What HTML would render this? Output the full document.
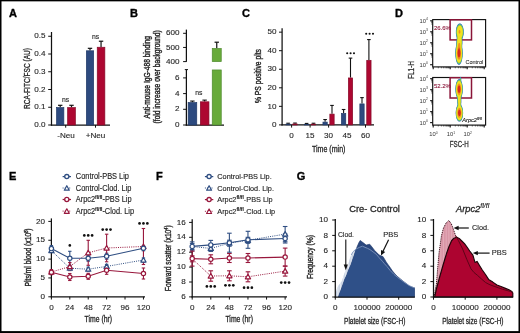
<!DOCTYPE html><html><head><meta charset="utf-8"><style>html,body{margin:0;padding:0;background:#fff;}svg{display:block;filter:blur(0.3px);}</style></head><body>
<svg width="520" height="333" viewBox="0 0 520 333" font-family="'Liberation Sans', sans-serif">
<rect x="0" y="0" width="520" height="333" fill="#fff"/>
<text x="9.00" y="16.80" font-size="11" text-anchor="start" fill="#000" stroke="#000" stroke-width="0.35" font-weight="bold">A</text>
<line x1="51.50" y1="32.00" x2="51.50" y2="125.60" stroke="#111" stroke-width="1.25"/>
<line x1="48.20" y1="125.00" x2="51.50" y2="125.00" stroke="#111" stroke-width="1.0"/>
<text x="45.40" y="127.15" font-size="8.1" text-anchor="end" fill="#262626" stroke="#262626" stroke-width="0.12">0.0</text>
<line x1="48.20" y1="107.25" x2="51.50" y2="107.25" stroke="#111" stroke-width="1.0"/>
<text x="45.40" y="109.40" font-size="8.1" text-anchor="end" fill="#262626" stroke="#262626" stroke-width="0.12">0.1</text>
<line x1="48.20" y1="89.50" x2="51.50" y2="89.50" stroke="#111" stroke-width="1.0"/>
<text x="45.40" y="91.65" font-size="8.1" text-anchor="end" fill="#262626" stroke="#262626" stroke-width="0.12">0.2</text>
<line x1="48.20" y1="71.75" x2="51.50" y2="71.75" stroke="#111" stroke-width="1.0"/>
<text x="45.40" y="73.90" font-size="8.1" text-anchor="end" fill="#262626" stroke="#262626" stroke-width="0.12">0.3</text>
<line x1="48.20" y1="54.00" x2="51.50" y2="54.00" stroke="#111" stroke-width="1.0"/>
<text x="45.40" y="56.15" font-size="8.1" text-anchor="end" fill="#262626" stroke="#262626" stroke-width="0.12">0.4</text>
<line x1="48.20" y1="36.25" x2="51.50" y2="36.25" stroke="#111" stroke-width="1.0"/>
<text x="45.40" y="38.40" font-size="8.1" text-anchor="end" fill="#262626" stroke="#262626" stroke-width="0.12">0.5</text>
<line x1="50.90" y1="125.00" x2="110.00" y2="125.00" stroke="#111" stroke-width="1.25"/>
<line x1="65.70" y1="125.00" x2="65.70" y2="127.70" stroke="#111" stroke-width="1.0"/>
<line x1="95.50" y1="125.00" x2="95.50" y2="127.70" stroke="#111" stroke-width="1.0"/>
<line x1="60.20" y1="105.30" x2="60.20" y2="107.25" stroke="#111" stroke-width="1.2"/>
<line x1="58.00" y1="105.30" x2="62.40" y2="105.30" stroke="#111" stroke-width="1.2"/>
<rect x="56.55" y="107.60" width="7.30" height="17.40" fill="#2d4a7f" stroke="#213a68" stroke-width="0.7"/>
<line x1="71.50" y1="105.30" x2="71.50" y2="107.25" stroke="#111" stroke-width="1.2"/>
<line x1="69.30" y1="105.30" x2="73.70" y2="105.30" stroke="#111" stroke-width="1.2"/>
<rect x="67.65" y="107.60" width="7.70" height="17.40" fill="#ad0731" stroke="#860a28" stroke-width="0.7"/>
<line x1="90.00" y1="48.32" x2="90.00" y2="50.45" stroke="#111" stroke-width="1.2"/>
<line x1="87.80" y1="48.32" x2="92.20" y2="48.32" stroke="#111" stroke-width="1.2"/>
<rect x="86.35" y="50.80" width="7.30" height="74.20" fill="#2d4a7f" stroke="#213a68" stroke-width="0.7"/>
<line x1="101.05" y1="41.22" x2="101.05" y2="46.90" stroke="#111" stroke-width="1.2"/>
<line x1="98.85" y1="41.22" x2="103.25" y2="41.22" stroke="#111" stroke-width="1.2"/>
<rect x="97.25" y="47.25" width="7.60" height="77.75" fill="#ad0731" stroke="#860a28" stroke-width="0.7"/>
<text x="65.70" y="102.20" font-size="6.8" text-anchor="middle" fill="#262626" stroke="#262626" stroke-width="0.12">ns</text>
<text x="95.60" y="38.60" font-size="6.8" text-anchor="middle" fill="#262626" stroke="#262626" stroke-width="0.12">ns</text>
<text x="66.00" y="138.40" font-size="8.1" text-anchor="middle" fill="#262626" stroke="#262626" stroke-width="0.12">-Neu</text>
<text x="95.60" y="138.40" font-size="8.1" text-anchor="middle" fill="#262626" stroke="#262626" stroke-width="0.12">+Neu</text>
<text x="29.60" y="78.50" font-size="8.2" text-anchor="middle" fill="#262626" stroke="#262626" stroke-width="0.3" textLength="61" lengthAdjust="spacingAndGlyphs" transform="rotate(-90 29.60 78.50)">RCA-FITC/FSC (AU)</text>
<text x="129.90" y="16.80" font-size="11" text-anchor="start" fill="#000" stroke="#000" stroke-width="0.35" font-weight="bold">B</text>
<line x1="186.40" y1="29.60" x2="186.40" y2="61.80" stroke="#111" stroke-width="1.25"/>
<line x1="183.10" y1="61.60" x2="186.40" y2="61.60" stroke="#111" stroke-width="1.0"/>
<text x="179.60" y="63.75" font-size="8.1" text-anchor="end" fill="#262626" stroke="#262626" stroke-width="0.12">400</text>
<line x1="183.10" y1="47.45" x2="186.40" y2="47.45" stroke="#111" stroke-width="1.0"/>
<text x="179.60" y="49.60" font-size="8.1" text-anchor="end" fill="#262626" stroke="#262626" stroke-width="0.12">500</text>
<line x1="183.10" y1="33.30" x2="186.40" y2="33.30" stroke="#111" stroke-width="1.0"/>
<text x="179.60" y="35.45" font-size="8.1" text-anchor="end" fill="#262626" stroke="#262626" stroke-width="0.12">600</text>
<line x1="186.40" y1="69.60" x2="186.40" y2="125.60" stroke="#111" stroke-width="1.25"/>
<line x1="184.80" y1="69.60" x2="188.00" y2="69.60" stroke="#111" stroke-width="1.0"/>
<line x1="183.10" y1="125.00" x2="186.40" y2="125.00" stroke="#111" stroke-width="1.0"/>
<text x="179.60" y="127.15" font-size="8.1" text-anchor="end" fill="#262626" stroke="#262626" stroke-width="0.12">0</text>
<line x1="183.10" y1="109.30" x2="186.40" y2="109.30" stroke="#111" stroke-width="1.0"/>
<text x="179.60" y="111.45" font-size="8.1" text-anchor="end" fill="#262626" stroke="#262626" stroke-width="0.12">2</text>
<line x1="183.10" y1="93.60" x2="186.40" y2="93.60" stroke="#111" stroke-width="1.0"/>
<text x="179.60" y="95.75" font-size="8.1" text-anchor="end" fill="#262626" stroke="#262626" stroke-width="0.12">4</text>
<line x1="183.10" y1="77.90" x2="186.40" y2="77.90" stroke="#111" stroke-width="1.0"/>
<text x="179.60" y="80.05" font-size="8.1" text-anchor="end" fill="#262626" stroke="#262626" stroke-width="0.12">6</text>
<line x1="185.80" y1="125.00" x2="224.00" y2="125.00" stroke="#111" stroke-width="1.25"/>
<line x1="192.40" y1="101.06" x2="192.40" y2="102.23" stroke="#111" stroke-width="1.1"/>
<line x1="190.20" y1="101.06" x2="194.60" y2="101.06" stroke="#111" stroke-width="1.1"/>
<rect x="188.15" y="102.58" width="8.60" height="22.41" fill="#2d4a7f" stroke="#213a68" stroke-width="0.7"/>
<line x1="204.60" y1="100.12" x2="204.60" y2="101.45" stroke="#111" stroke-width="1.1"/>
<line x1="202.40" y1="100.12" x2="206.80" y2="100.12" stroke="#111" stroke-width="1.1"/>
<rect x="200.35" y="101.80" width="8.60" height="23.20" fill="#ad0731" stroke="#860a28" stroke-width="0.7"/>
<rect x="212.25" y="69.95" width="9.00" height="55.05" fill="#68aa3a" stroke="#4f8a2f" stroke-width="0.7"/>
<line x1="216.75" y1="42.21" x2="216.75" y2="48.16" stroke="#111" stroke-width="1.2"/>
<line x1="214.55" y1="42.21" x2="218.95" y2="42.21" stroke="#111" stroke-width="1.2"/>
<rect x="212.25" y="48.51" width="9.00" height="13.09" fill="#68aa3a" stroke="#4f8a2f" stroke-width="0.7"/>
<text x="198.90" y="95.20" font-size="6.8" text-anchor="middle" fill="#262626" stroke="#262626" stroke-width="0.12">ns</text>
<text x="149.80" y="77.20" font-size="8.3" text-anchor="middle" fill="#262626" stroke="#262626" stroke-width="0.4" textLength="82.5" lengthAdjust="spacingAndGlyphs" transform="rotate(-90 149.80 77.20)">Anti-mouse IgG-488 binding</text>
<text x="160.10" y="76.90" font-size="8.3" text-anchor="middle" fill="#262626" stroke="#262626" stroke-width="0.4" textLength="93" lengthAdjust="spacingAndGlyphs" transform="rotate(-90 160.10 76.90)">(fold increase over background)</text>
<text x="241.90" y="16.80" font-size="11" text-anchor="start" fill="#000" stroke="#000" stroke-width="0.35" font-weight="bold">C</text>
<line x1="282.10" y1="28.20" x2="282.10" y2="125.50" stroke="#111" stroke-width="1.25"/>
<line x1="279.00" y1="124.90" x2="282.10" y2="124.90" stroke="#111" stroke-width="1.0"/>
<text x="276.40" y="127.05" font-size="8.1" text-anchor="end" fill="#262626" stroke="#262626" stroke-width="0.12">0</text>
<line x1="279.00" y1="106.35" x2="282.10" y2="106.35" stroke="#111" stroke-width="1.0"/>
<text x="276.40" y="108.50" font-size="8.1" text-anchor="end" fill="#262626" stroke="#262626" stroke-width="0.12">10</text>
<line x1="279.00" y1="87.80" x2="282.10" y2="87.80" stroke="#111" stroke-width="1.0"/>
<text x="276.40" y="89.95" font-size="8.1" text-anchor="end" fill="#262626" stroke="#262626" stroke-width="0.12">20</text>
<line x1="279.00" y1="69.25" x2="282.10" y2="69.25" stroke="#111" stroke-width="1.0"/>
<text x="276.40" y="71.40" font-size="8.1" text-anchor="end" fill="#262626" stroke="#262626" stroke-width="0.12">30</text>
<line x1="279.00" y1="50.70" x2="282.10" y2="50.70" stroke="#111" stroke-width="1.0"/>
<text x="276.40" y="52.85" font-size="8.1" text-anchor="end" fill="#262626" stroke="#262626" stroke-width="0.12">40</text>
<line x1="279.00" y1="32.15" x2="282.10" y2="32.15" stroke="#111" stroke-width="1.0"/>
<text x="276.40" y="34.30" font-size="8.1" text-anchor="end" fill="#262626" stroke="#262626" stroke-width="0.12">50</text>
<line x1="281.50" y1="124.90" x2="374.00" y2="124.90" stroke="#111" stroke-width="1.25"/>
<line x1="288.10" y1="123.23" x2="288.10" y2="123.79" stroke="#111" stroke-width="1.1"/>
<line x1="286.30" y1="123.23" x2="289.90" y2="123.23" stroke="#111" stroke-width="1.1"/>
<line x1="295.00" y1="123.05" x2="295.00" y2="123.60" stroke="#111" stroke-width="1.1"/>
<line x1="293.20" y1="123.05" x2="296.80" y2="123.05" stroke="#111" stroke-width="1.1"/>
<rect x="285.95" y="124.14" width="4.30" height="0.76" fill="#2d4a7f" stroke="#213a68" stroke-width="0.7"/>
<rect x="292.85" y="123.95" width="4.30" height="0.95" fill="#ad0731" stroke="#860a28" stroke-width="0.7"/>
<line x1="291.60" y1="124.90" x2="291.60" y2="127.60" stroke="#111" stroke-width="1.0"/>
<text x="291.60" y="138.20" font-size="8.1" text-anchor="middle" fill="#262626" stroke="#262626" stroke-width="0.12">0</text>
<line x1="306.60" y1="123.42" x2="306.60" y2="123.97" stroke="#111" stroke-width="1.1"/>
<line x1="304.80" y1="123.42" x2="308.40" y2="123.42" stroke="#111" stroke-width="1.1"/>
<line x1="313.50" y1="123.23" x2="313.50" y2="123.79" stroke="#111" stroke-width="1.1"/>
<line x1="311.70" y1="123.23" x2="315.30" y2="123.23" stroke="#111" stroke-width="1.1"/>
<rect x="304.45" y="124.32" width="4.30" height="0.58" fill="#2d4a7f" stroke="#213a68" stroke-width="0.7"/>
<rect x="311.35" y="124.14" width="4.30" height="0.76" fill="#ad0731" stroke="#860a28" stroke-width="0.7"/>
<line x1="310.10" y1="124.90" x2="310.10" y2="127.60" stroke="#111" stroke-width="1.0"/>
<text x="310.10" y="138.20" font-size="8.1" text-anchor="middle" fill="#262626" stroke="#262626" stroke-width="0.12">15</text>
<line x1="325.10" y1="119.52" x2="325.10" y2="121.75" stroke="#111" stroke-width="1.1"/>
<line x1="323.30" y1="119.52" x2="326.90" y2="119.52" stroke="#111" stroke-width="1.1"/>
<line x1="332.00" y1="105.42" x2="332.00" y2="113.77" stroke="#111" stroke-width="1.1"/>
<line x1="330.20" y1="105.42" x2="333.80" y2="105.42" stroke="#111" stroke-width="1.1"/>
<rect x="322.95" y="122.10" width="4.30" height="2.80" fill="#2d4a7f" stroke="#213a68" stroke-width="0.7"/>
<rect x="329.85" y="114.12" width="4.30" height="10.78" fill="#ad0731" stroke="#860a28" stroke-width="0.7"/>
<line x1="328.60" y1="124.90" x2="328.60" y2="127.60" stroke="#111" stroke-width="1.0"/>
<text x="328.60" y="138.20" font-size="8.1" text-anchor="middle" fill="#262626" stroke="#262626" stroke-width="0.12">30</text>
<line x1="343.60" y1="109.50" x2="343.60" y2="113.21" stroke="#111" stroke-width="1.1"/>
<line x1="341.80" y1="109.50" x2="345.40" y2="109.50" stroke="#111" stroke-width="1.1"/>
<line x1="350.50" y1="58.12" x2="350.50" y2="77.60" stroke="#111" stroke-width="1.1"/>
<line x1="348.70" y1="58.12" x2="352.30" y2="58.12" stroke="#111" stroke-width="1.1"/>
<rect x="341.45" y="113.56" width="4.30" height="11.34" fill="#2d4a7f" stroke="#213a68" stroke-width="0.7"/>
<rect x="348.35" y="77.95" width="4.30" height="46.95" fill="#ad0731" stroke="#860a28" stroke-width="0.7"/>
<line x1="347.10" y1="124.90" x2="347.10" y2="127.60" stroke="#111" stroke-width="1.0"/>
<text x="347.10" y="138.20" font-size="8.1" text-anchor="middle" fill="#262626" stroke="#262626" stroke-width="0.12">45</text>
<line x1="362.00" y1="97.63" x2="362.00" y2="103.57" stroke="#111" stroke-width="1.1"/>
<line x1="360.20" y1="97.63" x2="363.80" y2="97.63" stroke="#111" stroke-width="1.1"/>
<line x1="368.90" y1="39.57" x2="368.90" y2="59.98" stroke="#111" stroke-width="1.1"/>
<line x1="367.10" y1="39.57" x2="370.70" y2="39.57" stroke="#111" stroke-width="1.1"/>
<rect x="359.85" y="103.92" width="4.30" height="20.98" fill="#2d4a7f" stroke="#213a68" stroke-width="0.7"/>
<rect x="366.75" y="60.33" width="4.30" height="64.58" fill="#ad0731" stroke="#860a28" stroke-width="0.7"/>
<line x1="365.50" y1="124.90" x2="365.50" y2="127.60" stroke="#111" stroke-width="1.0"/>
<text x="365.50" y="138.20" font-size="8.1" text-anchor="middle" fill="#262626" stroke="#262626" stroke-width="0.12">60</text>
<circle cx="347.20" cy="53.20" r="1.05" fill="#111"/>
<circle cx="350.60" cy="53.20" r="1.05" fill="#111"/>
<circle cx="354.00" cy="53.20" r="1.05" fill="#111"/>
<circle cx="366.20" cy="33.70" r="1.05" fill="#111"/>
<circle cx="369.60" cy="33.70" r="1.05" fill="#111"/>
<circle cx="373.00" cy="33.70" r="1.05" fill="#111"/>
<text x="328.70" y="151.80" font-size="8.8" text-anchor="middle" fill="#262626" stroke="#262626" stroke-width="0.3" textLength="33.5" lengthAdjust="spacingAndGlyphs">Time (min)</text>
<text x="260.80" y="76.10" font-size="8.3" text-anchor="middle" fill="#262626" stroke="#262626" stroke-width="0.4" textLength="54" lengthAdjust="spacingAndGlyphs" transform="rotate(-90 260.80 76.10)">% PS positive plts</text>
<text x="394.90" y="16.80" font-size="11" text-anchor="start" fill="#000" stroke="#000" stroke-width="0.35" font-weight="bold">D</text>
<line x1="430.10" y1="20.80" x2="432.70" y2="20.80" stroke="#111" stroke-width="1.1"/>
<text x="427.9" y="22.80" font-size="5.8" text-anchor="end" fill="#333">10<tspan font-size="3.4" dy="-2.4">4</tspan></text>
<line x1="431.30" y1="24.09" x2="432.70" y2="24.09" stroke="#111" stroke-width="0.6"/>
<line x1="431.30" y1="22.78" x2="432.70" y2="22.78" stroke="#111" stroke-width="0.6"/>
<line x1="431.30" y1="22.12" x2="432.70" y2="22.12" stroke="#111" stroke-width="0.6"/>
<line x1="431.30" y1="21.68" x2="432.70" y2="21.68" stroke="#111" stroke-width="0.6"/>
<line x1="430.10" y1="31.78" x2="432.70" y2="31.78" stroke="#111" stroke-width="1.1"/>
<text x="427.9" y="33.78" font-size="5.8" text-anchor="end" fill="#333">10<tspan font-size="3.4" dy="-2.4">3</tspan></text>
<line x1="431.30" y1="35.07" x2="432.70" y2="35.07" stroke="#111" stroke-width="0.6"/>
<line x1="431.30" y1="33.76" x2="432.70" y2="33.76" stroke="#111" stroke-width="0.6"/>
<line x1="431.30" y1="33.10" x2="432.70" y2="33.10" stroke="#111" stroke-width="0.6"/>
<line x1="431.30" y1="32.66" x2="432.70" y2="32.66" stroke="#111" stroke-width="0.6"/>
<line x1="430.10" y1="42.76" x2="432.70" y2="42.76" stroke="#111" stroke-width="1.1"/>
<text x="427.9" y="44.76" font-size="5.8" text-anchor="end" fill="#333">10<tspan font-size="3.4" dy="-2.4">2</tspan></text>
<line x1="431.30" y1="46.05" x2="432.70" y2="46.05" stroke="#111" stroke-width="0.6"/>
<line x1="431.30" y1="44.74" x2="432.70" y2="44.74" stroke="#111" stroke-width="0.6"/>
<line x1="431.30" y1="44.08" x2="432.70" y2="44.08" stroke="#111" stroke-width="0.6"/>
<line x1="431.30" y1="43.64" x2="432.70" y2="43.64" stroke="#111" stroke-width="0.6"/>
<line x1="430.10" y1="53.74" x2="432.70" y2="53.74" stroke="#111" stroke-width="1.1"/>
<text x="427.9" y="55.74" font-size="5.8" text-anchor="end" fill="#333">10<tspan font-size="3.4" dy="-2.4">1</tspan></text>
<line x1="431.30" y1="57.03" x2="432.70" y2="57.03" stroke="#111" stroke-width="0.6"/>
<line x1="431.30" y1="55.72" x2="432.70" y2="55.72" stroke="#111" stroke-width="0.6"/>
<line x1="431.30" y1="55.06" x2="432.70" y2="55.06" stroke="#111" stroke-width="0.6"/>
<line x1="431.30" y1="54.62" x2="432.70" y2="54.62" stroke="#111" stroke-width="0.6"/>
<line x1="430.10" y1="64.72" x2="432.70" y2="64.72" stroke="#111" stroke-width="1.1"/>
<text x="427.9" y="66.72" font-size="5.8" text-anchor="end" fill="#333">10<tspan font-size="3.4" dy="-2.4">0</tspan></text>
<line x1="433.20" y1="66.90" x2="433.20" y2="69.30" stroke="#111" stroke-width="1.1"/>
<line x1="450.20" y1="66.90" x2="450.20" y2="69.30" stroke="#111" stroke-width="1.1"/>
<line x1="467.20" y1="66.90" x2="467.20" y2="69.30" stroke="#111" stroke-width="1.1"/>
<line x1="484.20" y1="66.90" x2="484.20" y2="69.30" stroke="#111" stroke-width="1.1"/>
<line x1="438.30" y1="66.90" x2="438.30" y2="68.30" stroke="#111" stroke-width="0.6"/>
<line x1="441.36" y1="66.90" x2="441.36" y2="68.30" stroke="#111" stroke-width="0.6"/>
<line x1="443.40" y1="66.90" x2="443.40" y2="68.30" stroke="#111" stroke-width="0.6"/>
<line x1="445.10" y1="66.90" x2="445.10" y2="68.30" stroke="#111" stroke-width="0.6"/>
<line x1="446.46" y1="66.90" x2="446.46" y2="68.30" stroke="#111" stroke-width="0.6"/>
<line x1="447.65" y1="66.90" x2="447.65" y2="68.30" stroke="#111" stroke-width="0.6"/>
<line x1="448.50" y1="66.90" x2="448.50" y2="68.30" stroke="#111" stroke-width="0.6"/>
<line x1="449.35" y1="66.90" x2="449.35" y2="68.30" stroke="#111" stroke-width="0.6"/>
<line x1="455.30" y1="66.90" x2="455.30" y2="68.30" stroke="#111" stroke-width="0.6"/>
<line x1="458.36" y1="66.90" x2="458.36" y2="68.30" stroke="#111" stroke-width="0.6"/>
<line x1="460.40" y1="66.90" x2="460.40" y2="68.30" stroke="#111" stroke-width="0.6"/>
<line x1="462.10" y1="66.90" x2="462.10" y2="68.30" stroke="#111" stroke-width="0.6"/>
<line x1="463.46" y1="66.90" x2="463.46" y2="68.30" stroke="#111" stroke-width="0.6"/>
<line x1="464.65" y1="66.90" x2="464.65" y2="68.30" stroke="#111" stroke-width="0.6"/>
<line x1="465.50" y1="66.90" x2="465.50" y2="68.30" stroke="#111" stroke-width="0.6"/>
<line x1="466.35" y1="66.90" x2="466.35" y2="68.30" stroke="#111" stroke-width="0.6"/>
<line x1="472.30" y1="66.90" x2="472.30" y2="68.30" stroke="#111" stroke-width="0.6"/>
<line x1="475.36" y1="66.90" x2="475.36" y2="68.30" stroke="#111" stroke-width="0.6"/>
<line x1="477.40" y1="66.90" x2="477.40" y2="68.30" stroke="#111" stroke-width="0.6"/>
<line x1="479.10" y1="66.90" x2="479.10" y2="68.30" stroke="#111" stroke-width="0.6"/>
<line x1="480.46" y1="66.90" x2="480.46" y2="68.30" stroke="#111" stroke-width="0.6"/>
<line x1="481.65" y1="66.90" x2="481.65" y2="68.30" stroke="#111" stroke-width="0.6"/>
<line x1="482.50" y1="66.90" x2="482.50" y2="68.30" stroke="#111" stroke-width="0.6"/>
<line x1="483.35" y1="66.90" x2="483.35" y2="68.30" stroke="#111" stroke-width="0.6"/>
<rect x="432.7" y="19.6" width="52.900000000000034" height="47.300000000000004" fill="none" stroke="#111" stroke-width="1.15"/>
<rect x="450.1" y="19.80" width="21.4" height="20.1" fill="none" stroke="#8a1538" stroke-width="1.5"/>
<text x="433.90" y="29.60" font-size="6.0" text-anchor="start" fill="#8a1538" stroke="#8a1538" stroke-width="0.1">26.6%</text>
<text x="483.20" y="64.10" font-size="5.5" text-anchor="end" fill="#262626" stroke="#262626" stroke-width="0.05">Control</text>
<line x1="430.10" y1="78.70" x2="432.70" y2="78.70" stroke="#111" stroke-width="1.1"/>
<text x="427.9" y="80.70" font-size="5.8" text-anchor="end" fill="#333">10<tspan font-size="3.4" dy="-2.4">4</tspan></text>
<line x1="431.30" y1="81.99" x2="432.70" y2="81.99" stroke="#111" stroke-width="0.6"/>
<line x1="431.30" y1="80.68" x2="432.70" y2="80.68" stroke="#111" stroke-width="0.6"/>
<line x1="431.30" y1="80.02" x2="432.70" y2="80.02" stroke="#111" stroke-width="0.6"/>
<line x1="431.30" y1="79.58" x2="432.70" y2="79.58" stroke="#111" stroke-width="0.6"/>
<line x1="430.10" y1="89.68" x2="432.70" y2="89.68" stroke="#111" stroke-width="1.1"/>
<text x="427.9" y="91.68" font-size="5.8" text-anchor="end" fill="#333">10<tspan font-size="3.4" dy="-2.4">3</tspan></text>
<line x1="431.30" y1="92.97" x2="432.70" y2="92.97" stroke="#111" stroke-width="0.6"/>
<line x1="431.30" y1="91.66" x2="432.70" y2="91.66" stroke="#111" stroke-width="0.6"/>
<line x1="431.30" y1="91.00" x2="432.70" y2="91.00" stroke="#111" stroke-width="0.6"/>
<line x1="431.30" y1="90.56" x2="432.70" y2="90.56" stroke="#111" stroke-width="0.6"/>
<line x1="430.10" y1="100.66" x2="432.70" y2="100.66" stroke="#111" stroke-width="1.1"/>
<text x="427.9" y="102.66" font-size="5.8" text-anchor="end" fill="#333">10<tspan font-size="3.4" dy="-2.4">2</tspan></text>
<line x1="431.30" y1="103.95" x2="432.70" y2="103.95" stroke="#111" stroke-width="0.6"/>
<line x1="431.30" y1="102.64" x2="432.70" y2="102.64" stroke="#111" stroke-width="0.6"/>
<line x1="431.30" y1="101.98" x2="432.70" y2="101.98" stroke="#111" stroke-width="0.6"/>
<line x1="431.30" y1="101.54" x2="432.70" y2="101.54" stroke="#111" stroke-width="0.6"/>
<line x1="430.10" y1="111.64" x2="432.70" y2="111.64" stroke="#111" stroke-width="1.1"/>
<text x="427.9" y="113.64" font-size="5.8" text-anchor="end" fill="#333">10<tspan font-size="3.4" dy="-2.4">1</tspan></text>
<line x1="431.30" y1="114.93" x2="432.70" y2="114.93" stroke="#111" stroke-width="0.6"/>
<line x1="431.30" y1="113.62" x2="432.70" y2="113.62" stroke="#111" stroke-width="0.6"/>
<line x1="431.30" y1="112.96" x2="432.70" y2="112.96" stroke="#111" stroke-width="0.6"/>
<line x1="431.30" y1="112.52" x2="432.70" y2="112.52" stroke="#111" stroke-width="0.6"/>
<line x1="430.10" y1="122.62" x2="432.70" y2="122.62" stroke="#111" stroke-width="1.1"/>
<text x="427.9" y="124.62" font-size="5.8" text-anchor="end" fill="#333">10<tspan font-size="3.4" dy="-2.4">0</tspan></text>
<line x1="433.20" y1="125.10" x2="433.20" y2="127.50" stroke="#111" stroke-width="1.1"/>
<line x1="450.20" y1="125.10" x2="450.20" y2="127.50" stroke="#111" stroke-width="1.1"/>
<line x1="467.20" y1="125.10" x2="467.20" y2="127.50" stroke="#111" stroke-width="1.1"/>
<line x1="484.20" y1="125.10" x2="484.20" y2="127.50" stroke="#111" stroke-width="1.1"/>
<line x1="438.30" y1="125.10" x2="438.30" y2="126.50" stroke="#111" stroke-width="0.6"/>
<line x1="441.36" y1="125.10" x2="441.36" y2="126.50" stroke="#111" stroke-width="0.6"/>
<line x1="443.40" y1="125.10" x2="443.40" y2="126.50" stroke="#111" stroke-width="0.6"/>
<line x1="445.10" y1="125.10" x2="445.10" y2="126.50" stroke="#111" stroke-width="0.6"/>
<line x1="446.46" y1="125.10" x2="446.46" y2="126.50" stroke="#111" stroke-width="0.6"/>
<line x1="447.65" y1="125.10" x2="447.65" y2="126.50" stroke="#111" stroke-width="0.6"/>
<line x1="448.50" y1="125.10" x2="448.50" y2="126.50" stroke="#111" stroke-width="0.6"/>
<line x1="449.35" y1="125.10" x2="449.35" y2="126.50" stroke="#111" stroke-width="0.6"/>
<line x1="455.30" y1="125.10" x2="455.30" y2="126.50" stroke="#111" stroke-width="0.6"/>
<line x1="458.36" y1="125.10" x2="458.36" y2="126.50" stroke="#111" stroke-width="0.6"/>
<line x1="460.40" y1="125.10" x2="460.40" y2="126.50" stroke="#111" stroke-width="0.6"/>
<line x1="462.10" y1="125.10" x2="462.10" y2="126.50" stroke="#111" stroke-width="0.6"/>
<line x1="463.46" y1="125.10" x2="463.46" y2="126.50" stroke="#111" stroke-width="0.6"/>
<line x1="464.65" y1="125.10" x2="464.65" y2="126.50" stroke="#111" stroke-width="0.6"/>
<line x1="465.50" y1="125.10" x2="465.50" y2="126.50" stroke="#111" stroke-width="0.6"/>
<line x1="466.35" y1="125.10" x2="466.35" y2="126.50" stroke="#111" stroke-width="0.6"/>
<line x1="472.30" y1="125.10" x2="472.30" y2="126.50" stroke="#111" stroke-width="0.6"/>
<line x1="475.36" y1="125.10" x2="475.36" y2="126.50" stroke="#111" stroke-width="0.6"/>
<line x1="477.40" y1="125.10" x2="477.40" y2="126.50" stroke="#111" stroke-width="0.6"/>
<line x1="479.10" y1="125.10" x2="479.10" y2="126.50" stroke="#111" stroke-width="0.6"/>
<line x1="480.46" y1="125.10" x2="480.46" y2="126.50" stroke="#111" stroke-width="0.6"/>
<line x1="481.65" y1="125.10" x2="481.65" y2="126.50" stroke="#111" stroke-width="0.6"/>
<line x1="482.50" y1="125.10" x2="482.50" y2="126.50" stroke="#111" stroke-width="0.6"/>
<line x1="483.35" y1="125.10" x2="483.35" y2="126.50" stroke="#111" stroke-width="0.6"/>
<rect x="432.7" y="77.5" width="52.900000000000034" height="47.599999999999994" fill="none" stroke="#111" stroke-width="1.15"/>
<rect x="450.1" y="77.70" width="21.4" height="20.3" fill="none" stroke="#8a1538" stroke-width="1.5"/>
<text x="433.90" y="87.50" font-size="6.0" text-anchor="start" fill="#8a1538" stroke="#8a1538" stroke-width="0.1">52.2%</text>
<text x="481.8" y="122.30" font-size="5.6" text-anchor="end" font-style="italic" fill="#262626" stroke="#262626" stroke-width="0.15">Arpc2<tspan font-size="3.8" dy="-2.4">fl/fl</tspan></text>
<polygon points="459.3,64.7 458.9,64.7 458.6,64.7 458.3,64.5 458.1,64.4 457.9,64.2 457.7,64.0 457.5,63.7 457.3,63.5 457.2,63.3 457.1,63.0 456.9,62.7 456.8,62.5 456.7,62.2 456.6,61.9 456.5,61.6 456.4,61.3 456.3,61.0 456.2,60.7 456.1,60.3 456.0,60.0 456.0,59.7 455.9,59.4 455.8,59.0 455.8,58.7 455.7,58.3 455.7,58.0 455.6,57.6 455.6,57.3 455.5,56.9 455.5,56.6 455.4,56.2 455.4,55.8 455.4,55.5 455.4,55.1 455.4,54.7 455.3,54.3 455.3,53.9 455.3,53.5 455.3,53.1 455.3,52.7 455.3,52.3 455.3,51.9 455.4,51.5 455.4,51.1 455.4,50.8 455.4,50.4 455.5,50.0 455.5,49.7 455.5,49.3 455.6,48.9 455.6,48.6 455.7,48.2 455.7,47.9 455.8,47.5 455.9,47.2 455.9,46.9 456.0,46.5 456.0,46.2 456.1,45.9 456.2,45.5 456.2,45.2 456.3,44.8 456.3,44.4 456.3,44.1 456.3,43.7 456.3,43.3 456.3,42.9 456.4,42.5 456.4,42.1 456.4,41.7 456.4,41.4 456.5,41.0 456.5,40.6 456.5,40.3 456.6,39.9 456.6,39.6 456.7,39.2 456.7,38.8 456.7,38.5 456.7,38.1 456.7,37.8 456.6,37.4 456.6,37.1 456.5,36.8 456.4,36.4 456.3,36.1 456.3,35.8 456.2,35.5 456.1,35.1 456.1,34.8 456.0,34.4 456.0,34.1 455.9,33.7 455.9,33.3 455.9,33.0 455.9,32.6 455.9,32.2 455.9,31.8 455.9,31.4 455.9,31.0 455.9,30.7 455.9,30.3 456.0,29.9 456.0,29.6 456.1,29.2 456.1,28.9 456.2,28.5 456.3,28.2 456.3,27.9 456.4,27.6 456.5,27.3 456.6,27.0 456.7,26.7 456.8,26.4 456.9,26.1 457.1,25.8 457.2,25.6 457.4,25.3 457.5,25.1 457.7,24.8 457.8,24.6 458.0,24.4 458.2,24.2 458.4,24.0 458.7,23.8 458.9,23.7 459.2,23.6 459.5,23.5 459.9,23.5 460.2,23.5 460.5,23.6 460.8,23.7 461.1,23.9 461.3,24.1 461.5,24.3 461.7,24.5 461.9,24.7 462.0,24.9 462.2,25.2 462.3,25.4 462.5,25.7 462.6,26.0 462.7,26.2 462.8,26.5 462.9,26.8 463.0,27.1 463.1,27.4 463.2,27.7 463.3,28.0 463.4,28.4 463.4,28.7 463.5,29.0 463.6,29.4 463.6,29.7 463.7,30.1 463.7,30.5 463.7,30.8 463.7,31.2 463.7,31.6 463.8,32.0 463.7,32.4 463.7,32.8 463.7,33.2 463.7,33.5 463.7,33.9 463.6,34.3 463.6,34.6 463.5,35.0 463.4,35.3 463.4,35.6 463.3,36.0 463.2,36.3 463.1,36.6 463.0,36.9 462.9,37.2 462.8,37.5 462.7,37.8 462.6,38.1 462.5,38.4 462.5,38.7 462.4,39.0 462.4,39.4 462.3,39.8 462.3,40.2 462.4,40.6 462.4,41.0 462.4,41.4 462.4,41.8 462.4,42.2 462.4,42.6 462.4,43.0 462.4,43.4 462.3,43.8 462.3,44.2 462.3,44.5 462.2,44.9 462.2,45.3 462.2,45.6 462.2,46.0 462.2,46.4 462.2,46.8 462.2,47.1 462.2,47.5 462.3,47.9 462.3,48.2 462.4,48.6 462.4,48.9 462.5,49.3 462.5,49.7 462.5,50.0 462.6,50.4 462.6,50.8 462.6,51.1 462.6,51.5 462.7,51.9 462.7,52.3 462.7,52.7 462.7,53.1 462.7,53.5 462.7,53.9 462.7,54.3 462.6,54.7 462.6,55.1 462.6,55.5 462.6,55.8 462.6,56.2 462.5,56.6 462.5,56.9 462.4,57.3 462.4,57.6 462.3,58.0 462.3,58.3 462.2,58.7 462.2,59.0 462.1,59.4 462.0,59.7 462.0,60.0 461.9,60.3 461.8,60.7 461.7,61.0 461.6,61.3 461.5,61.6 461.4,61.9 461.3,62.2 461.2,62.5 461.1,62.7 460.9,63.0 460.8,63.3 460.7,63.5 460.5,63.7 460.3,64.0 460.1,64.2 459.9,64.4 459.7,64.5 459.4,64.7" fill="#2c5aa8"/>
<polygon points="459.3,64.1 458.9,64.1 458.6,64.1 458.3,63.9 458.1,63.8 457.9,63.6 457.7,63.4 457.5,63.1 457.4,62.9 457.2,62.6 457.1,62.4 457.0,62.1 456.8,61.8 456.7,61.5 456.6,61.2 456.5,60.9 456.4,60.6 456.3,60.3 456.3,60.0 456.2,59.7 456.1,59.3 456.0,59.0 456.0,58.7 455.9,58.3 455.9,58.0 455.8,57.6 455.8,57.3 455.7,56.9 455.7,56.6 455.6,56.2 455.6,55.8 455.6,55.5 455.6,55.1 455.5,54.7 455.5,54.3 455.5,53.9 455.5,53.5 455.5,53.1 455.5,52.7 455.5,52.3 455.5,51.9 455.6,51.5 455.6,51.1 455.6,50.8 455.6,50.4 455.7,50.0 455.7,49.7 455.7,49.3 455.8,48.9 455.8,48.6 455.9,48.2 455.9,47.9 456.0,47.6 456.1,47.2 456.1,46.9 456.2,46.6 456.3,46.2 456.3,45.9 456.4,45.5 456.4,45.2 456.5,44.8 456.5,44.4 456.5,44.1 456.5,43.7 456.5,43.3 456.5,42.9 456.6,42.5 456.6,42.1 456.6,41.7 456.6,41.4 456.7,41.0 456.7,40.6 456.7,40.3 456.8,39.9 456.8,39.6 456.9,39.2 456.9,38.9 456.9,38.5 457.0,38.1 456.9,37.7 456.9,37.3 456.8,37.0 456.8,36.7 456.7,36.4 456.6,36.0 456.5,35.7 456.5,35.4 456.4,35.0 456.3,34.7 456.3,34.4 456.2,34.0 456.2,33.6 456.2,33.3 456.1,32.9 456.1,32.5 456.1,32.1 456.1,31.7 456.1,31.3 456.2,30.9 456.2,30.5 456.2,30.2 456.3,29.8 456.3,29.5 456.4,29.1 456.4,28.8 456.5,28.5 456.6,28.1 456.7,27.8 456.8,27.5 456.9,27.2 457.0,26.9 457.1,26.6 457.2,26.4 457.3,26.1 457.5,25.8 457.6,25.6 457.8,25.3 458.0,25.1 458.1,24.9 458.3,24.7 458.6,24.5 458.8,24.3 459.1,24.2 459.4,24.1 459.7,24.0 460.1,24.1 460.4,24.2 460.7,24.3 460.9,24.4 461.1,24.6 461.4,24.8 461.5,25.0 461.7,25.2 461.9,25.5 462.0,25.7 462.2,26.0 462.3,26.2 462.5,26.5 462.6,26.8 462.7,27.1 462.8,27.4 462.9,27.7 463.0,28.0 463.1,28.3 463.1,28.6 463.2,29.0 463.3,29.3 463.3,29.6 463.4,30.0 463.4,30.4 463.4,30.7 463.5,31.1 463.5,31.5 463.5,31.9 463.5,32.3 463.5,32.7 463.4,33.1 463.4,33.5 463.4,33.8 463.3,34.2 463.3,34.5 463.2,34.9 463.2,35.2 463.1,35.5 463.0,35.9 462.9,36.2 462.8,36.5 462.7,36.8 462.6,37.1 462.5,37.4 462.4,37.7 462.3,38.0 462.2,38.3 462.2,38.6 462.1,39.0 462.1,39.4 462.1,39.8 462.1,40.2 462.1,40.6 462.2,41.0 462.2,41.4 462.2,41.8 462.2,42.2 462.2,42.6 462.2,43.0 462.2,43.4 462.1,43.8 462.1,44.1 462.1,44.5 462.0,44.9 462.0,45.3 462.0,45.6 462.0,46.0 462.0,46.4 462.0,46.8 462.0,47.2 462.0,47.5 462.1,47.9 462.1,48.2 462.2,48.6 462.2,48.9 462.3,49.3 462.3,49.7 462.3,50.0 462.4,50.4 462.4,50.8 462.4,51.1 462.4,51.5 462.5,51.9 462.5,52.3 462.5,52.7 462.5,53.1 462.5,53.5 462.5,53.9 462.5,54.3 462.5,54.7 462.4,55.1 462.4,55.5 462.4,55.8 462.4,56.2 462.3,56.6 462.3,56.9 462.2,57.3 462.2,57.6 462.1,58.0 462.1,58.3 462.0,58.7 462.0,59.0 461.9,59.3 461.8,59.7 461.7,60.0 461.7,60.3 461.6,60.6 461.5,60.9 461.4,61.2 461.3,61.5 461.2,61.8 461.0,62.1 460.9,62.4 460.8,62.6 460.6,62.9 460.5,63.1 460.3,63.4 460.1,63.6 459.9,63.8 459.7,63.9 459.4,64.1" fill="#3bb3c9"/>
<polygon points="459.3,63.5 458.9,63.6 458.6,63.5 458.3,63.3 458.1,63.2 457.9,63.0 457.7,62.7 457.5,62.5 457.4,62.3 457.3,62.0 457.1,61.7 457.0,61.4 456.9,61.2 456.8,60.9 456.7,60.6 456.6,60.3 456.5,60.0 456.4,59.6 456.3,59.3 456.3,59.0 456.2,58.7 456.1,58.3 456.1,58.0 456.0,57.6 456.0,57.3 455.9,56.9 455.9,56.6 455.8,56.2 455.8,55.8 455.8,55.5 455.8,55.1 455.7,54.7 455.7,54.3 455.7,53.9 455.7,53.5 455.7,53.1 455.7,52.7 455.7,52.3 455.7,51.9 455.7,51.5 455.8,51.1 455.8,50.7 455.8,50.4 455.9,50.0 455.9,49.7 455.9,49.3 456.0,48.9 456.0,48.6 456.1,48.3 456.2,47.9 456.2,47.6 456.3,47.2 456.4,46.9 456.4,46.6 456.5,46.2 456.5,45.9 456.6,45.5 456.6,45.2 456.7,44.8 456.7,44.4 456.7,44.1 456.7,43.7 456.7,43.3 456.7,42.9 456.8,42.5 456.8,42.1 456.8,41.8 456.8,41.4 456.9,41.0 456.9,40.7 457.0,40.3 457.0,40.0 457.1,39.6 457.1,39.3 457.2,38.9 457.2,38.5 457.2,38.2 457.2,37.8 457.2,37.5 457.2,37.1 457.1,36.8 457.0,36.4 456.9,36.1 456.9,35.8 456.8,35.5 456.7,35.1 456.7,34.8 456.6,34.5 456.5,34.1 456.5,33.8 456.5,33.4 456.4,33.0 456.4,32.6 456.4,32.2 456.4,31.9 456.4,31.6 456.4,31.2 456.4,30.8 456.5,30.4 456.5,30.1 456.6,29.7 456.6,29.4 456.7,29.0 456.8,28.7 456.8,28.4 456.9,28.1 457.0,27.8 457.1,27.5 457.2,27.2 457.3,26.9 457.5,26.6 457.6,26.4 457.8,26.1 457.9,25.9 458.1,25.6 458.3,25.4 458.5,25.2 458.7,25.0 458.9,24.9 459.2,24.8 459.5,24.7 459.9,24.6 460.2,24.7 460.5,24.8 460.8,25.0 461.0,25.1 461.2,25.3 461.4,25.5 461.6,25.8 461.8,26.0 461.9,26.2 462.1,26.5 462.2,26.8 462.3,27.0 462.4,27.3 462.5,27.6 462.6,27.9 462.7,28.2 462.8,28.5 462.9,28.9 462.9,29.2 463.0,29.5 463.1,29.9 463.1,30.2 463.1,30.6 463.2,31.0 463.2,31.4 463.2,31.8 463.2,32.1 463.2,32.4 463.2,32.8 463.2,33.2 463.1,33.6 463.1,33.9 463.0,34.3 463.0,34.6 462.9,35.0 462.8,35.3 462.8,35.6 462.7,35.9 462.6,36.2 462.5,36.5 462.4,36.8 462.3,37.1 462.2,37.4 462.1,37.7 462.0,38.0 461.9,38.4 461.9,38.7 461.9,39.1 461.9,39.5 461.9,39.9 461.9,40.2 461.9,40.6 461.9,41.0 462.0,41.4 462.0,41.8 462.0,42.2 462.0,42.6 462.0,43.0 462.0,43.4 461.9,43.8 461.9,44.1 461.9,44.5 461.8,44.9 461.8,45.3 461.8,45.6 461.8,46.0 461.8,46.4 461.8,46.8 461.8,47.2 461.8,47.5 461.9,47.9 461.9,48.2 462.0,48.6 462.0,48.9 462.1,49.3 462.1,49.7 462.1,50.0 462.2,50.4 462.2,50.7 462.2,51.1 462.3,51.5 462.3,51.9 462.3,52.3 462.3,52.7 462.3,53.1 462.3,53.5 462.3,53.9 462.3,54.3 462.3,54.7 462.2,55.1 462.2,55.5 462.2,55.8 462.2,56.2 462.1,56.6 462.1,56.9 462.0,57.3 462.0,57.6 461.9,58.0 461.9,58.3 461.8,58.7 461.7,59.0 461.7,59.3 461.6,59.6 461.5,60.0 461.4,60.3 461.3,60.6 461.2,60.9 461.1,61.2 461.0,61.4 460.9,61.7 460.7,62.0 460.6,62.3 460.5,62.5 460.3,62.7 460.1,63.0 459.9,63.2 459.7,63.3 459.4,63.5" fill="#7fc343"/>
<polygon points="459.1,62.7 458.8,62.7 458.5,62.6 458.2,62.4 458.0,62.2 457.9,62.0 457.7,61.8 457.5,61.5 457.4,61.3 457.3,61.0 457.1,60.7 457.0,60.4 456.9,60.1 456.8,59.8 456.7,59.5 456.7,59.2 456.6,58.9 456.5,58.6 456.4,58.2 456.4,57.9 456.3,57.5 456.3,57.2 456.2,56.8 456.2,56.5 456.1,56.1 456.1,55.8 456.1,55.4 456.0,55.0 456.0,54.6 456.0,54.3 456.0,53.9 456.0,53.5 456.0,53.1 456.0,52.7 456.0,52.3 456.0,52.0 456.0,51.6 456.0,51.2 456.1,50.8 456.1,50.5 456.1,50.1 456.2,49.7 456.2,49.4 456.3,49.0 456.3,48.7 456.4,48.3 456.5,48.0 456.5,47.7 456.6,47.3 456.7,47.0 456.7,46.7 456.8,46.3 456.8,46.0 456.9,45.6 456.9,45.3 457.0,44.9 457.0,44.5 457.0,44.1 457.0,43.8 457.0,43.4 457.0,43.0 457.1,42.6 457.1,42.2 457.1,41.9 457.1,41.5 457.2,41.1 457.2,40.8 457.3,40.4 457.3,40.1 457.4,39.7 457.4,39.4 457.5,39.0 457.5,38.7 457.6,38.3 457.6,38.0 457.6,37.6 457.6,37.2 457.6,36.9 457.5,36.5 457.5,36.2 457.4,35.9 457.3,35.5 457.2,35.2 457.2,34.9 457.1,34.6 457.0,34.2 457.0,33.9 456.9,33.5 456.9,33.2 456.9,32.8 456.8,32.4 456.8,32.0 456.8,31.6 456.9,31.2 456.9,30.8 456.9,30.5 457.0,30.1 457.0,29.8 457.1,29.4 457.2,29.1 457.2,28.8 457.3,28.5 457.4,28.2 457.5,27.9 457.6,27.6 457.8,27.3 457.9,27.1 458.1,26.8 458.2,26.6 458.4,26.4 458.6,26.1 458.8,26.0 459.1,25.8 459.3,25.7 459.7,25.6 459.9,25.6 460.3,25.7 460.5,25.8 460.8,26.0 461.0,26.1 461.2,26.4 461.4,26.6 461.5,26.8 461.7,27.1 461.8,27.3 462.0,27.6 462.1,27.9 462.2,28.2 462.3,28.5 462.4,28.8 462.4,29.1 462.5,29.4 462.6,29.8 462.6,30.1 462.7,30.5 462.7,30.8 462.7,31.2 462.8,31.6 462.8,32.0 462.8,32.4 462.7,32.8 462.7,33.2 462.7,33.5 462.6,33.9 462.6,34.2 462.5,34.6 462.4,34.9 462.4,35.2 462.3,35.5 462.2,35.8 462.1,36.1 462.0,36.4 461.9,36.7 461.8,37.0 461.7,37.3 461.6,37.6 461.5,38.0 461.5,38.4 461.5,38.7 461.5,39.1 461.5,39.4 461.5,39.8 461.6,40.2 461.6,40.6 461.6,40.9 461.6,41.3 461.7,41.7 461.7,42.1 461.7,42.5 461.7,42.9 461.6,43.3 461.6,43.7 461.6,44.0 461.6,44.4 461.5,44.8 461.5,45.2 461.5,45.5 461.5,45.9 461.5,46.3 461.5,46.7 461.5,47.1 461.5,47.4 461.6,47.8 461.6,48.1 461.7,48.5 461.7,48.8 461.8,49.2 461.8,49.6 461.8,49.9 461.9,50.3 461.9,50.6 461.9,51.0 462.0,51.4 462.0,51.8 462.0,52.1 462.0,52.5 462.0,52.9 462.0,53.3 462.0,53.7 462.0,54.1 462.0,54.4 462.0,54.8 462.0,55.2 461.9,55.6 461.9,55.9 461.9,56.3 461.8,56.7 461.8,57.0 461.7,57.4 461.7,57.7 461.6,58.1 461.5,58.4 461.5,58.7 461.4,59.0 461.3,59.4 461.2,59.7 461.1,60.0 461.0,60.3 460.9,60.6 460.8,60.8 460.7,61.1 460.5,61.4 460.4,61.6 460.2,61.9 460.1,62.1 459.9,62.3 459.6,62.5 459.4,62.6 459.1,62.7" fill="#f2e01f"/>
<polygon points="459.7,33.6 459.3,33.6 459.1,33.4 458.9,33.2 458.8,32.9 458.7,32.6 458.7,32.3 458.6,31.9 458.7,31.5 458.7,31.2 458.8,30.8 458.9,30.6 459.1,30.3 459.3,30.1 459.6,30.0 459.9,30.1 460.1,30.4 460.2,30.6 460.3,30.9 460.4,31.2 460.4,31.6 460.4,32.0 460.4,32.4 460.3,32.7 460.2,33.0 460.1,33.3 459.9,33.5 459.7,33.6" fill="#f2901e"/>
<polygon points="459.1,59.7 458.8,59.7 458.5,59.5 458.3,59.3 458.1,59.1 458.0,58.9 457.8,58.6 457.7,58.3 457.6,58.0 457.5,57.7 457.4,57.4 457.3,57.1 457.3,56.8 457.2,56.4 457.1,56.1 457.1,55.8 457.1,55.4 457.0,55.0 457.0,54.7 457.0,54.3 456.9,53.9 456.9,53.5 456.9,53.1 456.9,52.7 456.9,52.3 457.0,51.9 457.0,51.5 457.0,51.2 457.1,50.8 457.1,50.5 457.2,50.1 457.2,49.8 457.3,49.5 457.4,49.1 457.5,48.8 457.5,48.5 457.6,48.2 457.7,47.8 457.8,47.5 457.8,47.2 457.9,46.8 457.9,46.5 458.0,46.1 458.0,45.8 458.1,45.4 458.1,45.1 458.2,44.7 458.2,44.4 458.3,44.0 458.4,43.7 458.5,43.4 458.6,43.2 458.8,42.9 459.1,42.8 459.5,42.9 459.7,43.1 459.9,43.3 460.0,43.6 460.1,43.8 460.2,44.2 460.2,44.5 460.3,44.9 460.3,45.2 460.3,45.6 460.3,46.0 460.4,46.4 460.4,46.8 460.4,47.2 460.4,47.5 460.5,47.9 460.5,48.2 460.6,48.6 460.6,48.9 460.7,49.3 460.7,49.6 460.8,49.9 460.9,50.3 460.9,50.6 460.9,51.0 461.0,51.4 461.0,51.7 461.0,52.1 461.1,52.5 461.1,52.9 461.1,53.3 461.1,53.7 461.1,54.1 461.0,54.5 461.0,54.9 461.0,55.2 460.9,55.6 460.9,55.9 460.8,56.3 460.8,56.6 460.7,56.9 460.6,57.3 460.5,57.6 460.4,57.9 460.3,58.2 460.2,58.5 460.1,58.7 459.9,59.0 459.8,59.2 459.6,59.4 459.4,59.6 459.1,59.7" fill="#f2901e"/>
<polygon points="459.0,57.5 458.7,57.4 458.5,57.2 458.4,57.0 458.2,56.7 458.1,56.5 458.0,56.1 457.9,55.8 457.8,55.5 457.8,55.2 457.7,54.8 457.7,54.5 457.7,54.1 457.6,53.7 457.6,53.3 457.6,52.9 457.6,52.5 457.7,52.1 457.7,51.8 457.8,51.4 457.8,51.1 457.9,50.7 458.0,50.4 458.0,50.1 458.1,49.8 458.2,49.5 458.3,49.2 458.5,48.9 458.6,48.6 458.7,48.3 458.8,48.0 458.9,47.7 459.0,47.5 459.2,47.4 459.3,47.7 459.4,48.0 459.5,48.4 459.6,48.7 459.7,49.0 459.8,49.3 459.8,49.6 459.9,49.9 460.0,50.2 460.1,50.6 460.2,50.9 460.2,51.2 460.3,51.6 460.3,51.9 460.3,52.3 460.4,52.7 460.4,53.1 460.4,53.5 460.4,53.9 460.3,54.3 460.3,54.6 460.2,55.0 460.2,55.3 460.1,55.7 460.0,56.0 460.0,56.3 459.8,56.6 459.7,56.9 459.6,57.1 459.4,57.3 459.1,57.5" fill="#d8281d"/>
<polygon points="459.7,121.6 459.3,121.6 459.0,121.6 458.7,121.5 458.4,121.3 458.2,121.2 458.0,121.0 457.8,120.8 457.6,120.5 457.4,120.3 457.3,120.1 457.1,119.8 457.0,119.5 456.9,119.3 456.8,119.0 456.6,118.7 456.5,118.4 456.4,118.1 456.4,117.8 456.3,117.5 456.2,117.2 456.1,116.8 456.0,116.5 456.0,116.2 455.9,115.8 455.9,115.5 455.8,115.1 455.8,114.7 455.8,114.4 455.8,114.0 455.7,113.6 455.7,113.2 455.7,112.8 455.7,112.4 455.7,112.0 455.8,111.6 455.8,111.2 455.8,110.9 455.9,110.5 455.9,110.2 456.0,109.8 456.0,109.5 456.1,109.1 456.2,108.8 456.2,108.5 456.3,108.2 456.4,107.8 456.5,107.5 456.6,107.2 456.7,107.0 456.8,106.7 456.9,106.4 457.1,106.1 457.2,105.8 457.3,105.5 457.4,105.2 457.4,104.9 457.5,104.5 457.5,104.1 457.4,103.7 457.4,103.3 457.4,103.0 457.3,102.6 457.3,102.2 457.3,101.8 457.3,101.5 457.3,101.1 457.3,100.7 457.3,100.3 457.3,99.9 457.3,99.5 457.3,99.1 457.2,98.7 457.2,98.4 457.1,98.0 457.0,97.7 456.9,97.4 456.8,97.1 456.7,96.8 456.6,96.5 456.5,96.3 456.4,96.0 456.3,95.7 456.2,95.3 456.1,95.0 456.0,94.7 456.0,94.4 455.9,94.1 455.8,93.7 455.8,93.4 455.7,93.0 455.7,92.7 455.6,92.3 455.6,92.0 455.5,91.6 455.5,91.2 455.5,90.9 455.5,90.5 455.4,90.1 455.4,89.7 455.4,89.3 455.4,88.9 455.4,88.5 455.4,88.1 455.5,87.7 455.5,87.3 455.5,87.0 455.6,86.6 455.6,86.2 455.6,85.9 455.7,85.5 455.7,85.2 455.8,84.8 455.9,84.5 455.9,84.2 456.0,83.8 456.1,83.5 456.2,83.2 456.2,82.9 456.3,82.6 456.4,82.3 456.6,82.0 456.7,81.7 456.8,81.4 456.9,81.2 457.1,80.9 457.2,80.7 457.4,80.4 457.5,80.2 457.7,80.0 457.9,79.8 458.1,79.6 458.4,79.4 458.7,79.3 459.0,79.2 459.4,79.3 459.7,79.2 459.9,78.9 459.9,78.6 460.0,78.2 460.0,77.9 460.1,77.6 460.2,77.3 460.4,77.0 460.6,76.8 460.8,77.0 461.0,77.3 461.1,77.6 461.1,77.9 461.2,78.3 461.2,78.6 461.2,79.0 461.2,79.4 461.2,79.8 461.2,80.2 461.2,80.6 461.3,81.0 461.4,81.3 461.5,81.6 461.6,81.9 461.7,82.2 461.8,82.4 461.9,82.7 462.0,83.1 462.1,83.4 462.2,83.7 462.2,84.0 462.3,84.3 462.4,84.7 462.4,85.0 462.5,85.4 462.5,85.7 462.6,86.1 462.6,86.4 462.7,86.8 462.7,87.2 462.7,87.5 462.7,87.9 462.8,88.3 462.8,88.7 462.8,89.1 462.8,89.5 462.8,89.9 462.8,90.3 462.7,90.7 462.7,91.1 462.7,91.4 462.6,91.8 462.6,92.2 462.6,92.5 462.5,92.9 462.5,93.2 462.4,93.6 462.3,93.9 462.3,94.2 462.2,94.6 462.1,94.9 462.0,95.2 462.0,95.5 461.9,95.8 461.8,96.1 461.7,96.4 461.6,96.7 461.5,97.0 461.4,97.3 461.3,97.7 461.3,98.1 461.3,98.4 461.3,98.8 461.3,99.2 461.3,99.6 461.3,99.9 461.3,100.3 461.3,100.7 461.3,101.1 461.3,101.5 461.3,101.8 461.3,102.2 461.3,102.6 461.2,103.0 461.2,103.4 461.2,103.7 461.2,104.1 461.2,104.5 461.2,104.8 461.3,105.1 461.4,105.4 461.5,105.7 461.7,106.0 461.8,106.3 461.9,106.5 462.0,106.8 462.2,107.1 462.3,107.4 462.4,107.7 462.4,108.0 462.5,108.3 462.6,108.6 462.7,109.0 462.8,109.3 462.8,109.6 462.9,110.0 462.9,110.3 463.0,110.7 463.0,111.1 463.0,111.4 463.0,111.8 463.1,112.2 463.1,112.6 463.1,113.0 463.1,113.4 463.1,113.8 463.0,114.2 463.0,114.6 463.0,114.9 462.9,115.3 462.9,115.6 462.8,116.0 462.8,116.3 462.7,116.7 462.6,117.0 462.6,117.3 462.5,117.6 462.4,118.0 462.3,118.3 462.2,118.6 462.1,118.8 462.0,119.1 461.9,119.4 461.7,119.7 461.6,119.9 461.4,120.2 461.3,120.4 461.1,120.7 460.9,120.9 460.7,121.1 460.5,121.2 460.3,121.4 460.0,121.5 459.7,121.6" fill="#2c5aa8"/>
<polygon points="459.9,121.1 459.5,121.2 459.1,121.2 458.8,121.1 458.5,120.9 458.3,120.8 458.1,120.6 457.9,120.4 457.7,120.1 457.5,119.9 457.4,119.7 457.2,119.4 457.1,119.1 457.0,118.9 456.9,118.6 456.8,118.3 456.7,118.0 456.6,117.7 456.5,117.4 456.4,117.1 456.3,116.7 456.2,116.4 456.2,116.1 456.1,115.7 456.1,115.4 456.0,115.0 456.0,114.7 456.0,114.3 455.9,113.9 455.9,113.5 455.9,113.1 455.9,112.7 455.9,112.3 455.9,111.9 456.0,111.5 456.0,111.1 456.0,110.8 456.1,110.4 456.1,110.1 456.2,109.7 456.2,109.4 456.3,109.1 456.4,108.7 456.5,108.4 456.6,108.1 456.7,107.8 456.8,107.5 456.9,107.2 457.0,106.9 457.1,106.6 457.2,106.4 457.3,106.1 457.5,105.8 457.6,105.5 457.6,105.2 457.7,104.8 457.7,104.4 457.7,104.0 457.6,103.6 457.6,103.3 457.6,102.9 457.5,102.5 457.5,102.1 457.5,101.8 457.5,101.4 457.5,101.0 457.5,100.6 457.5,100.2 457.5,99.8 457.5,99.4 457.5,99.0 457.4,98.6 457.4,98.3 457.3,97.9 457.3,97.6 457.2,97.3 457.1,97.0 457.0,96.7 456.8,96.4 456.7,96.1 456.6,95.8 456.5,95.5 456.4,95.2 456.3,94.9 456.2,94.6 456.2,94.3 456.1,94.0 456.0,93.6 456.0,93.3 455.9,92.9 455.8,92.6 455.8,92.2 455.8,91.9 455.7,91.5 455.7,91.2 455.7,90.8 455.6,90.4 455.6,90.0 455.6,89.6 455.6,89.2 455.6,88.8 455.6,88.4 455.6,88.0 455.7,87.6 455.7,87.2 455.7,86.9 455.8,86.5 455.8,86.2 455.8,85.8 455.9,85.5 456.0,85.1 456.0,84.8 456.1,84.4 456.2,84.1 456.2,83.8 456.3,83.5 456.4,83.2 456.5,82.9 456.6,82.6 456.7,82.3 456.8,82.0 457.0,81.7 457.1,81.5 457.2,81.2 457.4,80.9 457.6,80.7 457.7,80.5 457.9,80.3 458.2,80.1 458.4,79.9 458.7,79.8 459.0,79.7 459.4,79.8 459.7,79.8 459.9,79.6 460.0,79.3 460.0,79.0 460.1,78.6 460.1,78.3 460.2,77.9 460.3,77.6 460.4,77.4 460.6,77.3 460.8,77.5 460.9,77.8 461.0,78.1 461.1,78.5 461.1,78.9 461.1,79.2 461.1,79.6 461.1,80.0 461.1,80.3 461.1,80.7 461.1,81.1 461.1,81.4 461.2,81.7 461.4,82.0 461.5,82.3 461.6,82.6 461.7,82.9 461.8,83.2 461.9,83.5 462.0,83.8 462.0,84.1 462.1,84.4 462.2,84.8 462.2,85.1 462.3,85.5 462.4,85.8 462.4,86.2 462.4,86.5 462.5,86.9 462.5,87.2 462.5,87.6 462.6,88.0 462.6,88.4 462.6,88.8 462.6,89.2 462.6,89.6 462.6,90.0 462.6,90.4 462.5,90.8 462.5,91.2 462.5,91.5 462.4,91.9 462.4,92.2 462.4,92.6 462.3,92.9 462.2,93.3 462.2,93.6 462.1,94.0 462.0,94.3 462.0,94.6 461.9,94.9 461.8,95.2 461.7,95.5 461.6,95.8 461.5,96.1 461.4,96.4 461.3,96.8 461.2,97.1 461.2,97.4 461.1,97.8 461.1,98.1 461.1,98.5 461.1,98.9 461.1,99.3 461.1,99.6 461.1,100.0 461.1,100.4 461.1,100.8 461.1,101.2 461.1,101.6 461.1,102.0 461.1,102.3 461.1,102.7 461.0,103.1 461.0,103.4 461.0,103.8 461.0,104.2 461.0,104.6 461.0,104.9 461.1,105.3 461.2,105.6 461.3,105.8 461.4,106.1 461.6,106.4 461.7,106.7 461.8,106.9 461.9,107.2 462.0,107.5 462.1,107.8 462.2,108.1 462.3,108.4 462.4,108.7 462.5,109.1 462.6,109.4 462.6,109.7 462.7,110.1 462.7,110.4 462.8,110.8 462.8,111.1 462.8,111.5 462.9,111.9 462.9,112.3 462.9,112.7 462.9,113.1 462.9,113.5 462.9,113.9 462.8,114.3 462.8,114.7 462.8,115.0 462.7,115.4 462.7,115.7 462.6,116.1 462.6,116.4 462.5,116.7 462.4,117.1 462.3,117.4 462.2,117.7 462.1,118.0 462.0,118.3 461.9,118.6 461.8,118.9 461.7,119.1 461.6,119.4 461.4,119.7 461.3,119.9 461.1,120.1 460.9,120.4 460.7,120.6 460.5,120.8 460.3,120.9 460.0,121.1" fill="#3bb3c9"/>
<polygon points="459.7,120.7 459.3,120.8 459.0,120.7 458.7,120.6 458.4,120.4 458.2,120.2 458.0,120.0 457.8,119.8 457.7,119.6 457.5,119.3 457.4,119.1 457.2,118.8 457.1,118.5 457.0,118.3 456.9,118.0 456.8,117.7 456.7,117.4 456.6,117.1 456.5,116.7 456.4,116.4 456.4,116.1 456.3,115.7 456.3,115.4 456.2,115.0 456.2,114.7 456.2,114.3 456.1,113.9 456.1,113.5 456.1,113.1 456.1,112.7 456.1,112.3 456.1,111.9 456.2,111.5 456.2,111.1 456.2,110.8 456.3,110.4 456.3,110.1 456.4,109.7 456.4,109.4 456.5,109.1 456.6,108.7 456.7,108.4 456.8,108.1 456.9,107.8 457.0,107.5 457.1,107.3 457.2,107.0 457.4,106.7 457.5,106.4 457.6,106.1 457.7,105.9 457.8,105.5 457.9,105.2 457.9,104.9 457.9,104.5 457.9,104.2 457.9,103.8 457.8,103.4 457.8,103.1 457.8,102.7 457.7,102.3 457.7,102.0 457.7,101.6 457.7,101.2 457.7,100.8 457.7,100.4 457.7,100.0 457.7,99.6 457.7,99.2 457.6,98.8 457.6,98.4 457.6,98.1 457.5,97.7 457.5,97.4 457.4,97.1 457.3,96.8 457.2,96.5 457.0,96.2 456.9,95.9 456.8,95.6 456.7,95.3 456.6,95.0 456.5,94.7 456.4,94.4 456.3,94.1 456.3,93.8 456.2,93.5 456.1,93.1 456.1,92.8 456.0,92.4 456.0,92.1 455.9,91.7 455.9,91.4 455.9,91.0 455.8,90.6 455.8,90.2 455.8,89.8 455.8,89.4 455.8,89.0 455.8,88.6 455.8,88.2 455.8,87.8 455.9,87.4 455.9,87.0 455.9,86.7 456.0,86.3 456.0,86.0 456.1,85.6 456.1,85.3 456.2,84.9 456.3,84.6 456.3,84.3 456.4,84.0 456.5,83.7 456.6,83.4 456.7,83.1 456.8,82.8 456.9,82.5 457.0,82.2 457.2,81.9 457.3,81.7 457.5,81.4 457.6,81.2 457.8,81.0 458.0,80.8 458.2,80.6 458.5,80.4 458.7,80.3 459.1,80.2 459.5,80.3 459.8,80.4 460.0,80.2 460.1,79.8 460.1,79.5 460.2,79.1 460.2,78.8 460.3,78.5 460.5,78.2 460.7,78.2 460.8,78.5 460.9,78.9 460.9,79.2 460.9,79.6 460.9,80.0 460.9,80.4 460.9,80.7 460.9,81.1 460.9,81.4 461.0,81.8 461.1,82.1 461.2,82.3 461.3,82.6 461.4,82.9 461.5,83.2 461.6,83.5 461.7,83.8 461.8,84.1 461.9,84.5 462.0,84.8 462.0,85.1 462.1,85.5 462.2,85.8 462.2,86.1 462.2,86.5 462.3,86.9 462.3,87.2 462.3,87.6 462.4,88.0 462.4,88.4 462.4,88.8 462.4,89.2 462.4,89.6 462.4,90.0 462.4,90.4 462.3,90.8 462.3,91.2 462.3,91.5 462.2,91.9 462.2,92.3 462.2,92.6 462.1,92.9 462.0,93.3 462.0,93.6 461.9,93.9 461.8,94.3 461.7,94.6 461.6,94.9 461.6,95.2 461.5,95.5 461.4,95.8 461.3,96.1 461.2,96.4 461.1,96.7 461.0,97.1 460.9,97.4 460.9,97.8 460.9,98.1 460.9,98.5 460.9,98.9 460.9,99.3 460.9,99.6 460.9,100.0 460.9,100.4 460.9,100.8 460.9,101.2 460.9,101.6 460.9,102.0 460.9,102.3 460.9,102.7 460.8,103.1 460.8,103.4 460.8,103.8 460.7,104.2 460.7,104.6 460.8,105.0 460.8,105.3 460.9,105.6 461.0,105.9 461.2,106.2 461.3,106.4 461.4,106.7 461.6,107.0 461.7,107.3 461.8,107.5 461.9,107.8 462.0,108.1 462.1,108.4 462.2,108.7 462.3,109.1 462.4,109.4 462.4,109.7 462.5,110.1 462.5,110.4 462.6,110.8 462.6,111.1 462.6,111.5 462.7,111.9 462.7,112.3 462.7,112.7 462.7,113.1 462.7,113.5 462.7,113.9 462.6,114.3 462.6,114.7 462.6,115.0 462.5,115.4 462.5,115.7 462.4,116.1 462.4,116.4 462.3,116.7 462.2,117.1 462.1,117.4 462.0,117.7 461.9,118.0 461.8,118.3 461.7,118.5 461.6,118.8 461.4,119.1 461.3,119.3 461.1,119.6 461.0,119.8 460.8,120.0 460.6,120.2 460.4,120.4 460.1,120.6 459.8,120.7" fill="#7fc343"/>
<polygon points="459.5,120.1 459.2,120.1 458.9,120.0 458.6,119.8 458.4,119.7 458.2,119.5 458.0,119.3 457.8,119.0 457.7,118.8 457.5,118.5 457.4,118.3 457.3,118.0 457.1,117.7 457.0,117.4 456.9,117.1 456.9,116.8 456.8,116.5 456.7,116.2 456.6,115.8 456.6,115.5 456.5,115.1 456.5,114.8 456.4,114.4 456.4,114.0 456.4,113.7 456.4,113.3 456.4,112.9 456.4,112.5 456.4,112.1 456.4,111.8 456.4,111.4 456.5,111.0 456.5,110.7 456.6,110.3 456.6,110.0 456.7,109.6 456.8,109.3 456.9,109.0 456.9,108.7 457.0,108.4 457.1,108.1 457.3,107.8 457.4,107.5 457.5,107.3 457.6,107.0 457.8,106.7 457.9,106.4 458.0,106.2 458.1,105.9 458.2,105.6 458.3,105.2 458.3,104.9 458.3,104.5 458.3,104.1 458.3,103.8 458.2,103.4 458.2,103.1 458.1,102.7 458.1,102.4 458.1,102.0 458.0,101.6 458.0,101.2 458.0,100.8 458.0,100.4 458.0,100.0 458.0,99.6 458.0,99.2 458.0,98.8 458.0,98.5 458.0,98.1 457.9,97.7 457.8,97.4 457.8,97.1 457.7,96.8 457.6,96.5 457.4,96.2 457.3,95.9 457.2,95.6 457.1,95.4 457.0,95.1 456.9,94.8 456.8,94.5 456.7,94.2 456.6,93.8 456.5,93.5 456.5,93.2 456.4,92.9 456.3,92.5 456.3,92.2 456.2,91.8 456.2,91.5 456.2,91.1 456.1,90.7 456.1,90.3 456.1,90.0 456.1,89.6 456.1,89.2 456.1,88.8 456.1,88.4 456.1,88.1 456.1,87.7 456.2,87.3 456.2,86.9 456.2,86.6 456.3,86.2 456.3,85.9 456.4,85.5 456.5,85.2 456.5,84.9 456.6,84.6 456.7,84.2 456.8,83.9 456.9,83.6 457.0,83.3 457.1,83.0 457.2,82.8 457.3,82.5 457.5,82.2 457.6,82.0 457.8,81.8 458.0,81.5 458.2,81.4 458.4,81.2 458.7,81.1 459.0,81.0 459.3,81.0 459.6,81.1 459.9,81.3 460.2,81.4 460.4,81.6 460.5,81.8 460.7,82.1 460.8,82.4 460.9,82.6 461.0,82.9 461.2,83.2 461.3,83.5 461.4,83.8 461.5,84.1 461.6,84.4 461.6,84.7 461.7,85.0 461.8,85.4 461.8,85.7 461.9,86.1 461.9,86.4 462.0,86.8 462.0,87.1 462.1,87.5 462.1,87.9 462.1,88.2 462.1,88.6 462.1,89.0 462.1,89.4 462.1,89.8 462.1,90.2 462.1,90.5 462.1,90.9 462.0,91.3 462.0,91.6 461.9,92.0 461.9,92.3 461.8,92.7 461.8,93.0 461.7,93.4 461.6,93.7 461.6,94.0 461.5,94.3 461.4,94.6 461.3,94.9 461.2,95.2 461.1,95.5 461.0,95.8 460.9,96.1 460.8,96.4 460.7,96.8 460.6,97.1 460.6,97.4 460.6,97.8 460.5,98.2 460.5,98.6 460.5,99.0 460.5,99.4 460.6,99.8 460.6,100.2 460.6,100.6 460.6,101.0 460.6,101.4 460.5,101.8 460.5,102.2 460.5,102.5 460.4,102.9 460.4,103.3 460.4,103.6 460.3,104.0 460.3,104.4 460.3,104.8 460.4,105.2 460.5,105.5 460.6,105.8 460.7,106.1 460.8,106.3 460.9,106.6 461.1,106.9 461.2,107.1 461.4,107.4 461.5,107.7 461.6,108.0 461.7,108.2 461.8,108.5 461.9,108.8 462.0,109.2 462.1,109.5 462.1,109.8 462.2,110.2 462.3,110.5 462.3,110.8 462.3,111.2 462.4,111.6 462.4,112.0 462.4,112.3 462.4,112.7 462.4,113.1 462.4,113.5 462.4,113.8 462.4,114.2 462.3,114.6 462.3,115.0 462.3,115.3 462.2,115.6 462.1,116.0 462.1,116.3 462.0,116.6 461.9,117.0 461.8,117.3 461.7,117.6 461.6,117.8 461.5,118.1 461.4,118.4 461.2,118.7 461.1,118.9 460.9,119.2 460.7,119.4 460.5,119.6 460.3,119.8 460.1,119.9 459.8,120.0 459.5,120.1" fill="#f2e01f"/>
<polygon points="459.3,95.2 459.0,95.2 458.7,95.0 458.5,94.8 458.4,94.6 458.2,94.3 458.1,94.1 457.9,93.8 457.8,93.6 457.7,93.3 457.6,93.0 457.5,92.7 457.4,92.4 457.3,92.0 457.2,91.7 457.2,91.4 457.1,91.0 457.1,90.7 457.1,90.3 457.0,89.9 457.0,89.5 457.0,89.1 457.0,88.7 457.1,88.3 457.1,87.9 457.1,87.6 457.2,87.2 457.2,86.9 457.3,86.5 457.3,86.2 457.4,85.9 457.5,85.6 457.6,85.3 457.7,85.0 457.9,84.7 458.0,84.4 458.2,84.2 458.3,84.0 458.5,83.8 458.8,83.6 459.1,83.6 459.4,83.6 459.7,83.8 459.9,84.0 460.0,84.2 460.2,84.4 460.3,84.7 460.5,85.0 460.6,85.3 460.7,85.6 460.8,85.9 460.9,86.2 460.9,86.5 461.0,86.9 461.0,87.2 461.1,87.6 461.1,87.9 461.1,88.3 461.2,88.7 461.2,89.1 461.2,89.5 461.2,89.9 461.1,90.3 461.1,90.7 461.1,91.0 461.0,91.4 461.0,91.7 460.9,92.0 460.8,92.4 460.7,92.7 460.6,93.0 460.5,93.3 460.4,93.6 460.3,93.8 460.2,94.1 460.0,94.4 459.9,94.6 459.7,94.9 459.5,95.1 459.3,95.2" fill="#f2901e"/>
<polygon points="459.6,117.8 459.2,117.8 458.9,117.7 458.7,117.5 458.5,117.3 458.3,117.1 458.2,116.9 458.0,116.6 457.9,116.3 457.8,116.0 457.7,115.7 457.6,115.4 457.5,115.1 457.5,114.8 457.4,114.4 457.4,114.1 457.4,113.7 457.3,113.3 457.3,112.9 457.3,112.5 457.4,112.1 457.4,111.7 457.4,111.4 457.5,111.0 457.5,110.7 457.6,110.4 457.7,110.1 457.8,109.8 457.9,109.5 458.0,109.2 458.2,108.9 458.3,108.7 458.5,108.4 458.7,108.2 458.9,108.0 459.1,107.9 459.5,107.8 459.8,108.0 460.0,108.1 460.2,108.3 460.4,108.6 460.6,108.8 460.7,109.1 460.8,109.3 460.9,109.6 461.0,109.9 461.1,110.2 461.2,110.5 461.3,110.9 461.3,111.2 461.4,111.6 461.4,111.9 461.5,112.3 461.5,112.7 461.5,113.1 461.5,113.5 461.4,113.9 461.4,114.2 461.3,114.6 461.3,114.9 461.2,115.3 461.1,115.6 461.0,115.9 460.9,116.2 460.8,116.5 460.7,116.7 460.5,117.0 460.4,117.2 460.2,117.4 460.0,117.6 459.7,117.8" fill="#f2901e"/>
<polygon points="459.3,92.9 458.9,92.9 458.7,92.8 458.5,92.6 458.3,92.3 458.2,92.0 458.1,91.7 458.0,91.4 457.9,91.1 457.9,90.8 457.8,90.4 457.8,90.1 457.7,89.7 457.7,89.3 457.7,88.9 457.8,88.5 457.8,88.1 457.8,87.8 457.9,87.4 458.0,87.1 458.1,86.8 458.2,86.5 458.3,86.2 458.4,86.0 458.6,85.7 458.8,85.6 459.1,85.5 459.4,85.6 459.6,85.7 459.8,86.0 459.9,86.2 460.0,86.5 460.1,86.8 460.2,87.1 460.3,87.4 460.4,87.8 460.4,88.1 460.4,88.5 460.5,88.9 460.5,89.3 460.5,89.7 460.4,90.1 460.4,90.4 460.3,90.8 460.3,91.1 460.2,91.4 460.1,91.8 460.0,92.0 459.9,92.3 459.7,92.6 459.5,92.8 459.3,92.9" fill="#d8281d"/>
<polygon points="459.6,116.1 459.2,116.1 459.0,116.0 458.8,115.8 458.6,115.6 458.5,115.3 458.4,115.0 458.3,114.7 458.2,114.4 458.1,114.0 458.1,113.7 458.0,113.3 458.0,112.9 458.0,112.5 458.1,112.1 458.1,111.8 458.2,111.4 458.3,111.1 458.4,110.8 458.5,110.5 458.6,110.2 458.8,110.0 459.0,109.8 459.2,109.7 459.6,109.7 459.8,109.8 460.0,110.0 460.2,110.2 460.3,110.5 460.4,110.8 460.5,111.1 460.6,111.4 460.7,111.8 460.7,112.1 460.8,112.5 460.8,112.9 460.8,113.3 460.7,113.7 460.7,114.0 460.6,114.4 460.5,114.7 460.4,115.0 460.3,115.3 460.2,115.6 460.0,115.8 459.8,116.0 459.6,116.1" fill="#d8281d"/>
<text x="413.60" y="70.00" font-size="9.6" text-anchor="middle" fill="#303030" stroke="#303030" stroke-width="0.3" textLength="17.8" lengthAdjust="spacingAndGlyphs" transform="rotate(-90 413.60 70.00)">FL1-H</text>
<text x="433.40000000000003" y="136.0" font-size="5.8" text-anchor="middle" fill="#333">10<tspan font-size="3.4" dy="-2.4">0</tspan></text>
<text x="450.90000000000003" y="136.0" font-size="5.8" text-anchor="middle" fill="#333">10<tspan font-size="3.4" dy="-2.4">1</tspan></text>
<text x="467.70000000000005" y="136.0" font-size="5.8" text-anchor="middle" fill="#333">10<tspan font-size="3.4" dy="-2.4">2</tspan></text>
<text x="459.30" y="147.00" font-size="9.3" text-anchor="middle" fill="#303030" stroke="#303030" stroke-width="0.3" textLength="19" lengthAdjust="spacingAndGlyphs">FSC-H</text>
<text x="9.00" y="180.20" font-size="11" text-anchor="start" fill="#000" stroke="#000" stroke-width="0.35" font-weight="bold">E</text>
<line x1="62.60" y1="176.60" x2="71.00" y2="176.60" stroke="#2f4e82" stroke-width="1.2"/>
<circle cx="66.80" cy="176.60" r="2.1" fill="#fff" stroke="#2f4e82" stroke-width="1.3"/>
<text x="75.8" y="179.40" font-size="8.2" fill="#262626" stroke="#262626" stroke-width="0.15" textLength="53.2" lengthAdjust="spacingAndGlyphs">Control-PBS Lip</text>
<line x1="62.60" y1="188.00" x2="71.00" y2="188.00" stroke="#2f4e82" stroke-width="1.0" stroke-dasharray="1,1.2"/>
<polygon points="66.80,185.70 69.30,190.20 64.30,190.20" fill="#fff" stroke="#2f4e82" stroke-width="1.2" stroke-linejoin="round"/>
<text x="75.8" y="190.80" font-size="8.2" fill="#262626" stroke="#262626" stroke-width="0.15" textLength="55.6" lengthAdjust="spacingAndGlyphs">Control-Clod. Lip</text>
<line x1="62.60" y1="199.50" x2="71.00" y2="199.50" stroke="#98173c" stroke-width="1.2"/>
<circle cx="66.80" cy="199.50" r="2.1" fill="#fff" stroke="#98173c" stroke-width="1.3"/>
<text x="75.8" y="202.30" font-size="8.2" fill="#262626" stroke="#262626" stroke-width="0.15" textLength="55.8" lengthAdjust="spacingAndGlyphs">Arpc2<tspan font-size="5.4" dy="-3.1" font-weight="bold">fl/fl</tspan><tspan dy="3.1">-PBS Lip</tspan></text>
<line x1="62.60" y1="211.10" x2="71.00" y2="211.10" stroke="#98173c" stroke-width="1.0" stroke-dasharray="1,1.2"/>
<polygon points="66.80,208.80 69.30,213.30 64.30,213.30" fill="#fff" stroke="#98173c" stroke-width="1.2" stroke-linejoin="round"/>
<text x="75.8" y="213.90" font-size="8.2" fill="#262626" stroke="#262626" stroke-width="0.15" textLength="58.2" lengthAdjust="spacingAndGlyphs">Arpc2<tspan font-size="5.4" dy="-3.1" font-weight="bold">fl/fl</tspan><tspan dy="3.1">-Clod. Lip</tspan></text>
<line x1="51.40" y1="218.40" x2="51.40" y2="297.40" stroke="#111" stroke-width="1.25"/>
<line x1="48.30" y1="296.80" x2="51.40" y2="296.80" stroke="#111" stroke-width="1.0"/>
<text x="45.00" y="298.95" font-size="8.1" text-anchor="end" fill="#262626" stroke="#262626" stroke-width="0.12">0</text>
<line x1="48.30" y1="277.95" x2="51.40" y2="277.95" stroke="#111" stroke-width="1.0"/>
<text x="45.00" y="280.10" font-size="8.1" text-anchor="end" fill="#262626" stroke="#262626" stroke-width="0.12">5</text>
<line x1="48.30" y1="259.10" x2="51.40" y2="259.10" stroke="#111" stroke-width="1.0"/>
<text x="45.00" y="261.25" font-size="8.1" text-anchor="end" fill="#262626" stroke="#262626" stroke-width="0.12">10</text>
<line x1="48.30" y1="240.25" x2="51.40" y2="240.25" stroke="#111" stroke-width="1.0"/>
<text x="45.00" y="242.40" font-size="8.1" text-anchor="end" fill="#262626" stroke="#262626" stroke-width="0.12">15</text>
<line x1="48.30" y1="221.40" x2="51.40" y2="221.40" stroke="#111" stroke-width="1.0"/>
<text x="45.00" y="223.55" font-size="8.1" text-anchor="end" fill="#262626" stroke="#262626" stroke-width="0.12">20</text>
<line x1="50.80" y1="296.80" x2="145.00" y2="296.80" stroke="#111" stroke-width="1.25"/>
<line x1="51.40" y1="296.80" x2="51.40" y2="299.50" stroke="#111" stroke-width="1.0"/>
<text x="51.40" y="310.10" font-size="8.1" text-anchor="middle" fill="#262626" stroke="#262626" stroke-width="0.12">0</text>
<line x1="69.81" y1="296.80" x2="69.81" y2="299.50" stroke="#111" stroke-width="1.0"/>
<text x="69.81" y="310.10" font-size="8.1" text-anchor="middle" fill="#262626" stroke="#262626" stroke-width="0.12">24</text>
<line x1="88.22" y1="296.80" x2="88.22" y2="299.50" stroke="#111" stroke-width="1.0"/>
<text x="88.22" y="310.10" font-size="8.1" text-anchor="middle" fill="#262626" stroke="#262626" stroke-width="0.12">48</text>
<line x1="106.62" y1="296.80" x2="106.62" y2="299.50" stroke="#111" stroke-width="1.0"/>
<text x="106.62" y="310.10" font-size="8.1" text-anchor="middle" fill="#262626" stroke="#262626" stroke-width="0.12">72</text>
<line x1="125.03" y1="296.80" x2="125.03" y2="299.50" stroke="#111" stroke-width="1.0"/>
<text x="125.03" y="310.10" font-size="8.1" text-anchor="middle" fill="#262626" stroke="#262626" stroke-width="0.12">96</text>
<line x1="143.44" y1="296.80" x2="143.44" y2="299.50" stroke="#111" stroke-width="1.0"/>
<text x="143.44" y="310.10" font-size="8.1" text-anchor="middle" fill="#262626" stroke="#262626" stroke-width="0.12">120</text>
<text x="98.30" y="321.70" font-size="8.8" text-anchor="middle" fill="#262626" stroke="#262626" stroke-width="0.3" textLength="27.5" lengthAdjust="spacingAndGlyphs">Time (hr)</text>
<text x="30.6" y="257.4" font-size="8.5" text-anchor="middle" fill="#262626" stroke="#262626" stroke-width="0.4" transform="rotate(-90 30.6 257.4)" textLength="58" lengthAdjust="spacingAndGlyphs">Plts/ml blood (x10<tspan font-size="5" dy="-3">8</tspan><tspan dy="3">)</tspan></text>
<line x1="51.40" y1="245.60" x2="51.40" y2="251.60" stroke="#2f4e82" stroke-width="1.1"/>
<line x1="49.70" y1="245.60" x2="53.10" y2="245.60" stroke="#2f4e82" stroke-width="1.1"/>
<line x1="49.70" y1="251.60" x2="53.10" y2="251.60" stroke="#2f4e82" stroke-width="1.1"/>
<line x1="69.81" y1="251.30" x2="69.81" y2="265.30" stroke="#2f4e82" stroke-width="1.1"/>
<line x1="68.11" y1="251.30" x2="71.51" y2="251.30" stroke="#2f4e82" stroke-width="1.1"/>
<line x1="68.11" y1="265.30" x2="71.51" y2="265.30" stroke="#2f4e82" stroke-width="1.1"/>
<line x1="88.22" y1="255.20" x2="88.22" y2="261.20" stroke="#2f4e82" stroke-width="1.1"/>
<line x1="86.52" y1="255.20" x2="89.92" y2="255.20" stroke="#2f4e82" stroke-width="1.1"/>
<line x1="86.52" y1="261.20" x2="89.92" y2="261.20" stroke="#2f4e82" stroke-width="1.1"/>
<line x1="106.62" y1="253.20" x2="106.62" y2="259.20" stroke="#2f4e82" stroke-width="1.1"/>
<line x1="104.92" y1="253.20" x2="108.32" y2="253.20" stroke="#2f4e82" stroke-width="1.1"/>
<line x1="104.92" y1="259.20" x2="108.32" y2="259.20" stroke="#2f4e82" stroke-width="1.1"/>
<line x1="143.44" y1="245.80" x2="143.44" y2="250.80" stroke="#2f4e82" stroke-width="1.1"/>
<line x1="141.74" y1="245.80" x2="145.14" y2="245.80" stroke="#2f4e82" stroke-width="1.1"/>
<line x1="141.74" y1="250.80" x2="145.14" y2="250.80" stroke="#2f4e82" stroke-width="1.1"/>
<line x1="51.40" y1="248.60" x2="51.40" y2="252.60" stroke="#2f4e82" stroke-width="1.1"/>
<line x1="49.70" y1="248.60" x2="53.10" y2="248.60" stroke="#2f4e82" stroke-width="1.1"/>
<line x1="49.70" y1="252.60" x2="53.10" y2="252.60" stroke="#2f4e82" stroke-width="1.1"/>
<line x1="69.81" y1="266.20" x2="69.81" y2="270.20" stroke="#2f4e82" stroke-width="1.1"/>
<line x1="68.11" y1="266.20" x2="71.51" y2="266.20" stroke="#2f4e82" stroke-width="1.1"/>
<line x1="68.11" y1="270.20" x2="71.51" y2="270.20" stroke="#2f4e82" stroke-width="1.1"/>
<line x1="88.22" y1="267.20" x2="88.22" y2="271.20" stroke="#2f4e82" stroke-width="1.1"/>
<line x1="86.52" y1="267.20" x2="89.92" y2="267.20" stroke="#2f4e82" stroke-width="1.1"/>
<line x1="86.52" y1="271.20" x2="89.92" y2="271.20" stroke="#2f4e82" stroke-width="1.1"/>
<line x1="106.62" y1="264.40" x2="106.62" y2="268.40" stroke="#2f4e82" stroke-width="1.1"/>
<line x1="104.92" y1="264.40" x2="108.32" y2="264.40" stroke="#2f4e82" stroke-width="1.1"/>
<line x1="104.92" y1="268.40" x2="108.32" y2="268.40" stroke="#2f4e82" stroke-width="1.1"/>
<line x1="143.44" y1="258.00" x2="143.44" y2="262.00" stroke="#2f4e82" stroke-width="1.1"/>
<line x1="141.74" y1="258.00" x2="145.14" y2="258.00" stroke="#2f4e82" stroke-width="1.1"/>
<line x1="141.74" y1="262.00" x2="145.14" y2="262.00" stroke="#2f4e82" stroke-width="1.1"/>
<line x1="51.40" y1="269.70" x2="51.40" y2="274.70" stroke="#98173c" stroke-width="1.1"/>
<line x1="49.70" y1="269.70" x2="53.10" y2="269.70" stroke="#98173c" stroke-width="1.1"/>
<line x1="49.70" y1="274.70" x2="53.10" y2="274.70" stroke="#98173c" stroke-width="1.1"/>
<line x1="69.81" y1="273.50" x2="69.81" y2="280.50" stroke="#98173c" stroke-width="1.1"/>
<line x1="68.11" y1="273.50" x2="71.51" y2="273.50" stroke="#98173c" stroke-width="1.1"/>
<line x1="68.11" y1="280.50" x2="71.51" y2="280.50" stroke="#98173c" stroke-width="1.1"/>
<line x1="88.22" y1="273.30" x2="88.22" y2="279.30" stroke="#98173c" stroke-width="1.1"/>
<line x1="86.52" y1="273.30" x2="89.92" y2="273.30" stroke="#98173c" stroke-width="1.1"/>
<line x1="86.52" y1="279.30" x2="89.92" y2="279.30" stroke="#98173c" stroke-width="1.1"/>
<line x1="106.62" y1="266.30" x2="106.62" y2="274.30" stroke="#98173c" stroke-width="1.1"/>
<line x1="104.92" y1="266.30" x2="108.32" y2="266.30" stroke="#98173c" stroke-width="1.1"/>
<line x1="104.92" y1="274.30" x2="108.32" y2="274.30" stroke="#98173c" stroke-width="1.1"/>
<line x1="143.44" y1="268.00" x2="143.44" y2="279.00" stroke="#98173c" stroke-width="1.1"/>
<line x1="141.74" y1="268.00" x2="145.14" y2="268.00" stroke="#98173c" stroke-width="1.1"/>
<line x1="141.74" y1="279.00" x2="145.14" y2="279.00" stroke="#98173c" stroke-width="1.1"/>
<line x1="51.40" y1="270.00" x2="51.40" y2="274.00" stroke="#98173c" stroke-width="1.1"/>
<line x1="49.70" y1="270.00" x2="53.10" y2="270.00" stroke="#98173c" stroke-width="1.1"/>
<line x1="49.70" y1="274.00" x2="53.10" y2="274.00" stroke="#98173c" stroke-width="1.1"/>
<line x1="69.81" y1="262.60" x2="69.81" y2="270.60" stroke="#98173c" stroke-width="1.1"/>
<line x1="68.11" y1="262.60" x2="71.51" y2="262.60" stroke="#98173c" stroke-width="1.1"/>
<line x1="68.11" y1="270.60" x2="71.51" y2="270.60" stroke="#98173c" stroke-width="1.1"/>
<line x1="88.22" y1="240.30" x2="88.22" y2="265.30" stroke="#98173c" stroke-width="1.1"/>
<line x1="86.52" y1="240.30" x2="89.92" y2="240.30" stroke="#98173c" stroke-width="1.1"/>
<line x1="86.52" y1="265.30" x2="89.92" y2="265.30" stroke="#98173c" stroke-width="1.1"/>
<line x1="106.62" y1="234.20" x2="106.62" y2="261.80" stroke="#98173c" stroke-width="1.1"/>
<line x1="104.92" y1="234.20" x2="108.32" y2="234.20" stroke="#98173c" stroke-width="1.1"/>
<line x1="104.92" y1="261.80" x2="108.32" y2="261.80" stroke="#98173c" stroke-width="1.1"/>
<line x1="143.44" y1="228.50" x2="143.44" y2="264.50" stroke="#98173c" stroke-width="1.1"/>
<line x1="141.74" y1="228.50" x2="145.14" y2="228.50" stroke="#98173c" stroke-width="1.1"/>
<line x1="141.74" y1="264.50" x2="145.14" y2="264.50" stroke="#98173c" stroke-width="1.1"/>
<polyline points="51.40,250.60 69.81,268.20 88.22,269.20 106.62,266.40 143.44,260.00" fill="none" stroke="#2f4e82" stroke-width="1.0" stroke-dasharray="1,1.2"/>
<polyline points="51.40,272.00 69.81,266.60 88.22,252.80 106.62,248.00 143.44,246.50" fill="none" stroke="#98173c" stroke-width="1.0" stroke-dasharray="1,1.2"/>
<polyline points="51.40,248.60 69.81,258.30 88.22,258.20 106.62,256.20 143.44,248.30" fill="none" stroke="#2f4e82" stroke-width="1.1"/>
<polyline points="51.40,272.20 69.81,277.00 88.22,276.30 106.62,270.30 143.44,273.50" fill="none" stroke="#98173c" stroke-width="1.1"/>
<polygon points="51.40,248.10 54.00,252.60 48.80,252.60" fill="#fff" stroke="#2f4e82" stroke-width="1.25" stroke-linejoin="round"/>
<polygon points="69.81,265.70 72.41,270.20 67.21,270.20" fill="#fff" stroke="#2f4e82" stroke-width="1.25" stroke-linejoin="round"/>
<polygon points="88.22,266.70 90.82,271.20 85.62,271.20" fill="#fff" stroke="#2f4e82" stroke-width="1.25" stroke-linejoin="round"/>
<polygon points="106.62,263.90 109.22,268.40 104.02,268.40" fill="#fff" stroke="#2f4e82" stroke-width="1.25" stroke-linejoin="round"/>
<polygon points="143.44,257.50 146.04,262.00 140.84,262.00" fill="#fff" stroke="#2f4e82" stroke-width="1.25" stroke-linejoin="round"/>
<polygon points="51.40,269.50 54.00,274.00 48.80,274.00" fill="#fff" stroke="#98173c" stroke-width="1.25" stroke-linejoin="round"/>
<polygon points="69.81,264.10 72.41,268.60 67.21,268.60" fill="#fff" stroke="#98173c" stroke-width="1.25" stroke-linejoin="round"/>
<polygon points="88.22,250.30 90.82,254.80 85.62,254.80" fill="#fff" stroke="#98173c" stroke-width="1.25" stroke-linejoin="round"/>
<polygon points="106.62,245.50 109.22,250.00 104.02,250.00" fill="#fff" stroke="#98173c" stroke-width="1.25" stroke-linejoin="round"/>
<polygon points="143.44,244.00 146.04,248.50 140.84,248.50" fill="#fff" stroke="#98173c" stroke-width="1.25" stroke-linejoin="round"/>
<circle cx="51.40" cy="248.60" r="2.15" fill="#fff" stroke="#2f4e82" stroke-width="1.2"/>
<circle cx="69.81" cy="258.30" r="2.15" fill="#fff" stroke="#2f4e82" stroke-width="1.2"/>
<circle cx="88.22" cy="258.20" r="2.15" fill="#fff" stroke="#2f4e82" stroke-width="1.2"/>
<circle cx="106.62" cy="256.20" r="2.15" fill="#fff" stroke="#2f4e82" stroke-width="1.2"/>
<circle cx="143.44" cy="248.30" r="2.15" fill="#fff" stroke="#2f4e82" stroke-width="1.2"/>
<circle cx="51.40" cy="272.20" r="2.15" fill="#fff" stroke="#98173c" stroke-width="1.2"/>
<circle cx="69.81" cy="277.00" r="2.15" fill="#fff" stroke="#98173c" stroke-width="1.2"/>
<circle cx="88.22" cy="276.30" r="2.15" fill="#fff" stroke="#98173c" stroke-width="1.2"/>
<circle cx="106.62" cy="270.30" r="2.15" fill="#fff" stroke="#98173c" stroke-width="1.2"/>
<circle cx="143.44" cy="273.50" r="2.15" fill="#fff" stroke="#98173c" stroke-width="1.2"/>
<circle cx="69.81" cy="245.40" r="1.3" fill="#111"/>
<circle cx="84.32" cy="235.40" r="1.35" fill="#111"/>
<circle cx="88.22" cy="235.40" r="1.35" fill="#111"/>
<circle cx="92.12" cy="235.40" r="1.35" fill="#111"/>
<circle cx="102.72" cy="229.60" r="1.35" fill="#111"/>
<circle cx="106.62" cy="229.60" r="1.35" fill="#111"/>
<circle cx="110.52" cy="229.60" r="1.35" fill="#111"/>
<circle cx="139.54" cy="223.40" r="1.35" fill="#111"/>
<circle cx="143.44" cy="223.40" r="1.35" fill="#111"/>
<circle cx="147.34" cy="223.40" r="1.35" fill="#111"/>
<text x="155.90" y="180.20" font-size="11" text-anchor="start" fill="#000" stroke="#000" stroke-width="0.35" font-weight="bold">F</text>
<line x1="204.90" y1="176.60" x2="213.30" y2="176.60" stroke="#2f4e82" stroke-width="1.2"/>
<circle cx="209.10" cy="176.60" r="2.1" fill="#fff" stroke="#2f4e82" stroke-width="1.3"/>
<text x="217.3" y="179.40" font-size="8.0" fill="#262626" stroke="#262626" stroke-width="0.15" textLength="54.4" lengthAdjust="spacingAndGlyphs">Control-PBS Lip.</text>
<line x1="204.90" y1="188.00" x2="213.30" y2="188.00" stroke="#2f4e82" stroke-width="1.0" stroke-dasharray="1,1.2"/>
<polygon points="209.10,185.70 211.60,190.20 206.60,190.20" fill="#fff" stroke="#2f4e82" stroke-width="1.2" stroke-linejoin="round"/>
<text x="217.3" y="190.80" font-size="8.0" fill="#262626" stroke="#262626" stroke-width="0.15" textLength="56.6" lengthAdjust="spacingAndGlyphs">Control-Clod. Lip.</text>
<line x1="204.90" y1="199.60" x2="213.30" y2="199.60" stroke="#98173c" stroke-width="1.2"/>
<circle cx="209.10" cy="199.60" r="2.1" fill="#fff" stroke="#98173c" stroke-width="1.3"/>
<text x="217.3" y="202.40" font-size="8.0" fill="#262626" stroke="#262626" stroke-width="0.15" textLength="55.4" lengthAdjust="spacingAndGlyphs">Arpc2<tspan font-size="5.4" dy="-3.1" font-weight="bold">fl/fl</tspan><tspan dy="3.1">-PBS Lip</tspan></text>
<line x1="204.90" y1="211.30" x2="213.30" y2="211.30" stroke="#98173c" stroke-width="1.0" stroke-dasharray="1,1.2"/>
<polygon points="209.10,209.00 211.60,213.50 206.60,213.50" fill="#fff" stroke="#98173c" stroke-width="1.2" stroke-linejoin="round"/>
<text x="217.3" y="214.10" font-size="8.0" fill="#262626" stroke="#262626" stroke-width="0.15" textLength="57.8" lengthAdjust="spacingAndGlyphs">Arpc2<tspan font-size="5.4" dy="-3.1" font-weight="bold">fl/fl</tspan><tspan dy="3.1">-Clod. Lip</tspan></text>
<line x1="192.20" y1="219.20" x2="192.20" y2="297.50" stroke="#111" stroke-width="1.25"/>
<line x1="189.10" y1="296.90" x2="192.20" y2="296.90" stroke="#111" stroke-width="1.0"/>
<text x="185.80" y="299.05" font-size="8.1" text-anchor="end" fill="#262626" stroke="#262626" stroke-width="0.12">6</text>
<line x1="189.10" y1="282.00" x2="192.20" y2="282.00" stroke="#111" stroke-width="1.0"/>
<text x="185.80" y="284.15" font-size="8.1" text-anchor="end" fill="#262626" stroke="#262626" stroke-width="0.12">8</text>
<line x1="189.10" y1="267.10" x2="192.20" y2="267.10" stroke="#111" stroke-width="1.0"/>
<text x="185.80" y="269.25" font-size="8.1" text-anchor="end" fill="#262626" stroke="#262626" stroke-width="0.12">10</text>
<line x1="189.10" y1="252.20" x2="192.20" y2="252.20" stroke="#111" stroke-width="1.0"/>
<text x="185.80" y="254.35" font-size="8.1" text-anchor="end" fill="#262626" stroke="#262626" stroke-width="0.12">12</text>
<line x1="189.10" y1="237.30" x2="192.20" y2="237.30" stroke="#111" stroke-width="1.0"/>
<text x="185.80" y="239.45" font-size="8.1" text-anchor="end" fill="#262626" stroke="#262626" stroke-width="0.12">14</text>
<line x1="189.10" y1="222.40" x2="192.20" y2="222.40" stroke="#111" stroke-width="1.0"/>
<text x="185.80" y="224.55" font-size="8.1" text-anchor="end" fill="#262626" stroke="#262626" stroke-width="0.12">16</text>
<line x1="191.60" y1="296.90" x2="287.00" y2="296.90" stroke="#111" stroke-width="1.25"/>
<line x1="192.20" y1="296.90" x2="192.20" y2="299.60" stroke="#111" stroke-width="1.0"/>
<text x="192.20" y="310.10" font-size="8.1" text-anchor="middle" fill="#262626" stroke="#262626" stroke-width="0.12">0</text>
<line x1="210.79" y1="296.90" x2="210.79" y2="299.60" stroke="#111" stroke-width="1.0"/>
<text x="210.79" y="310.10" font-size="8.1" text-anchor="middle" fill="#262626" stroke="#262626" stroke-width="0.12">24</text>
<line x1="229.38" y1="296.90" x2="229.38" y2="299.60" stroke="#111" stroke-width="1.0"/>
<text x="229.38" y="310.10" font-size="8.1" text-anchor="middle" fill="#262626" stroke="#262626" stroke-width="0.12">48</text>
<line x1="247.96" y1="296.90" x2="247.96" y2="299.60" stroke="#111" stroke-width="1.0"/>
<text x="247.96" y="310.10" font-size="8.1" text-anchor="middle" fill="#262626" stroke="#262626" stroke-width="0.12">72</text>
<line x1="266.55" y1="296.90" x2="266.55" y2="299.60" stroke="#111" stroke-width="1.0"/>
<text x="266.55" y="310.10" font-size="8.1" text-anchor="middle" fill="#262626" stroke="#262626" stroke-width="0.12">96</text>
<line x1="285.14" y1="296.90" x2="285.14" y2="299.60" stroke="#111" stroke-width="1.0"/>
<text x="285.14" y="310.10" font-size="8.1" text-anchor="middle" fill="#262626" stroke="#262626" stroke-width="0.12">120</text>
<text x="239.20" y="321.70" font-size="8.8" text-anchor="middle" fill="#262626" stroke="#262626" stroke-width="0.3" textLength="27.5" lengthAdjust="spacingAndGlyphs">Time (hr)</text>
<text x="171.5" y="258.2" font-size="8.5" text-anchor="middle" fill="#262626" stroke="#262626" stroke-width="0.4" transform="rotate(-90 171.5 258.2)" textLength="66" lengthAdjust="spacingAndGlyphs">Forward scatter (x10<tspan font-size="5" dy="-3">4</tspan><tspan dy="3">)</tspan></text>
<line x1="192.20" y1="241.90" x2="192.20" y2="250.90" stroke="#2f4e82" stroke-width="1.1"/>
<line x1="189.90" y1="241.90" x2="194.50" y2="241.90" stroke="#2f4e82" stroke-width="1.1"/>
<line x1="189.90" y1="250.90" x2="194.50" y2="250.90" stroke="#2f4e82" stroke-width="1.1"/>
<line x1="210.79" y1="240.40" x2="210.79" y2="249.40" stroke="#2f4e82" stroke-width="1.1"/>
<line x1="208.49" y1="240.40" x2="213.09" y2="240.40" stroke="#2f4e82" stroke-width="1.1"/>
<line x1="208.49" y1="249.40" x2="213.09" y2="249.40" stroke="#2f4e82" stroke-width="1.1"/>
<line x1="229.38" y1="233.20" x2="229.38" y2="252.20" stroke="#2f4e82" stroke-width="1.1"/>
<line x1="227.08" y1="233.20" x2="231.68" y2="233.20" stroke="#2f4e82" stroke-width="1.1"/>
<line x1="227.08" y1="252.20" x2="231.68" y2="252.20" stroke="#2f4e82" stroke-width="1.1"/>
<line x1="247.96" y1="231.30" x2="247.96" y2="248.30" stroke="#2f4e82" stroke-width="1.1"/>
<line x1="245.66" y1="231.30" x2="250.26" y2="231.30" stroke="#2f4e82" stroke-width="1.1"/>
<line x1="245.66" y1="248.30" x2="250.26" y2="248.30" stroke="#2f4e82" stroke-width="1.1"/>
<line x1="285.14" y1="234.00" x2="285.14" y2="243.00" stroke="#2f4e82" stroke-width="1.1"/>
<line x1="282.84" y1="234.00" x2="287.44" y2="234.00" stroke="#2f4e82" stroke-width="1.1"/>
<line x1="282.84" y1="243.00" x2="287.44" y2="243.00" stroke="#2f4e82" stroke-width="1.1"/>
<line x1="192.20" y1="243.60" x2="192.20" y2="249.60" stroke="#2f4e82" stroke-width="1.1"/>
<line x1="189.90" y1="243.60" x2="194.50" y2="243.60" stroke="#2f4e82" stroke-width="1.1"/>
<line x1="189.90" y1="249.60" x2="194.50" y2="249.60" stroke="#2f4e82" stroke-width="1.1"/>
<line x1="210.79" y1="245.40" x2="210.79" y2="251.40" stroke="#2f4e82" stroke-width="1.1"/>
<line x1="208.49" y1="245.40" x2="213.09" y2="245.40" stroke="#2f4e82" stroke-width="1.1"/>
<line x1="208.49" y1="251.40" x2="213.09" y2="251.40" stroke="#2f4e82" stroke-width="1.1"/>
<line x1="229.38" y1="240.20" x2="229.38" y2="246.20" stroke="#2f4e82" stroke-width="1.1"/>
<line x1="227.08" y1="240.20" x2="231.68" y2="240.20" stroke="#2f4e82" stroke-width="1.1"/>
<line x1="227.08" y1="246.20" x2="231.68" y2="246.20" stroke="#2f4e82" stroke-width="1.1"/>
<line x1="247.96" y1="237.30" x2="247.96" y2="243.30" stroke="#2f4e82" stroke-width="1.1"/>
<line x1="245.66" y1="237.30" x2="250.26" y2="237.30" stroke="#2f4e82" stroke-width="1.1"/>
<line x1="245.66" y1="243.30" x2="250.26" y2="243.30" stroke="#2f4e82" stroke-width="1.1"/>
<line x1="285.14" y1="226.50" x2="285.14" y2="241.70" stroke="#2f4e82" stroke-width="1.1"/>
<line x1="282.84" y1="226.50" x2="287.44" y2="226.50" stroke="#2f4e82" stroke-width="1.1"/>
<line x1="282.84" y1="241.70" x2="287.44" y2="241.70" stroke="#2f4e82" stroke-width="1.1"/>
<line x1="192.20" y1="251.10" x2="192.20" y2="266.10" stroke="#98173c" stroke-width="1.1"/>
<line x1="189.90" y1="251.10" x2="194.50" y2="251.10" stroke="#98173c" stroke-width="1.1"/>
<line x1="189.90" y1="266.10" x2="194.50" y2="266.10" stroke="#98173c" stroke-width="1.1"/>
<line x1="210.79" y1="254.80" x2="210.79" y2="263.80" stroke="#98173c" stroke-width="1.1"/>
<line x1="208.49" y1="254.80" x2="213.09" y2="254.80" stroke="#98173c" stroke-width="1.1"/>
<line x1="208.49" y1="263.80" x2="213.09" y2="263.80" stroke="#98173c" stroke-width="1.1"/>
<line x1="229.38" y1="253.50" x2="229.38" y2="262.50" stroke="#98173c" stroke-width="1.1"/>
<line x1="227.08" y1="253.50" x2="231.68" y2="253.50" stroke="#98173c" stroke-width="1.1"/>
<line x1="227.08" y1="262.50" x2="231.68" y2="262.50" stroke="#98173c" stroke-width="1.1"/>
<line x1="247.96" y1="253.50" x2="247.96" y2="262.50" stroke="#98173c" stroke-width="1.1"/>
<line x1="245.66" y1="253.50" x2="250.26" y2="253.50" stroke="#98173c" stroke-width="1.1"/>
<line x1="245.66" y1="262.50" x2="250.26" y2="262.50" stroke="#98173c" stroke-width="1.1"/>
<line x1="285.14" y1="248.10" x2="285.14" y2="266.10" stroke="#98173c" stroke-width="1.1"/>
<line x1="282.84" y1="248.10" x2="287.44" y2="248.10" stroke="#98173c" stroke-width="1.1"/>
<line x1="282.84" y1="266.10" x2="287.44" y2="266.10" stroke="#98173c" stroke-width="1.1"/>
<line x1="192.20" y1="255.80" x2="192.20" y2="261.80" stroke="#98173c" stroke-width="1.1"/>
<line x1="189.90" y1="255.80" x2="194.50" y2="255.80" stroke="#98173c" stroke-width="1.1"/>
<line x1="189.90" y1="261.80" x2="194.50" y2="261.80" stroke="#98173c" stroke-width="1.1"/>
<line x1="210.79" y1="270.80" x2="210.79" y2="281.20" stroke="#98173c" stroke-width="1.1"/>
<line x1="208.49" y1="270.80" x2="213.09" y2="270.80" stroke="#98173c" stroke-width="1.1"/>
<line x1="208.49" y1="281.20" x2="213.09" y2="281.20" stroke="#98173c" stroke-width="1.1"/>
<line x1="229.38" y1="270.80" x2="229.38" y2="280.80" stroke="#98173c" stroke-width="1.1"/>
<line x1="227.08" y1="270.80" x2="231.68" y2="270.80" stroke="#98173c" stroke-width="1.1"/>
<line x1="227.08" y1="280.80" x2="231.68" y2="280.80" stroke="#98173c" stroke-width="1.1"/>
<line x1="247.96" y1="271.80" x2="247.96" y2="281.80" stroke="#98173c" stroke-width="1.1"/>
<line x1="245.66" y1="271.80" x2="250.26" y2="271.80" stroke="#98173c" stroke-width="1.1"/>
<line x1="245.66" y1="281.80" x2="250.26" y2="281.80" stroke="#98173c" stroke-width="1.1"/>
<line x1="285.14" y1="266.10" x2="285.14" y2="276.10" stroke="#98173c" stroke-width="1.1"/>
<line x1="282.84" y1="266.10" x2="287.44" y2="266.10" stroke="#98173c" stroke-width="1.1"/>
<line x1="282.84" y1="276.10" x2="287.44" y2="276.10" stroke="#98173c" stroke-width="1.1"/>
<polyline points="192.20,246.60 210.79,248.40 229.38,243.20 247.96,240.30 285.14,234.10" fill="none" stroke="#2f4e82" stroke-width="1.0" stroke-dasharray="1,1.2"/>
<polyline points="192.20,258.80 210.79,276.00 229.38,275.80 247.96,276.80 285.14,271.10" fill="none" stroke="#98173c" stroke-width="1.0" stroke-dasharray="1,1.2"/>
<polyline points="192.20,246.40 210.79,244.90 229.38,242.70 247.96,239.80 285.14,238.50" fill="none" stroke="#2f4e82" stroke-width="1.1"/>
<polyline points="192.20,258.60 210.79,259.30 229.38,258.00 247.96,258.00 285.14,257.10" fill="none" stroke="#98173c" stroke-width="1.1"/>
<polygon points="210.79,245.90 213.39,250.40 208.19,250.40" fill="#fff" stroke="#2f4e82" stroke-width="1.25" stroke-linejoin="round"/>
<polygon points="229.38,240.70 231.98,245.20 226.78,245.20" fill="#fff" stroke="#2f4e82" stroke-width="1.25" stroke-linejoin="round"/>
<polygon points="247.96,237.80 250.56,242.30 245.36,242.30" fill="#fff" stroke="#2f4e82" stroke-width="1.25" stroke-linejoin="round"/>
<polygon points="285.14,231.60 287.74,236.10 282.54,236.10" fill="#fff" stroke="#2f4e82" stroke-width="1.25" stroke-linejoin="round"/>
<polygon points="210.79,273.50 213.39,278.00 208.19,278.00" fill="#fff" stroke="#98173c" stroke-width="1.25" stroke-linejoin="round"/>
<polygon points="229.38,273.30 231.98,277.80 226.78,277.80" fill="#fff" stroke="#98173c" stroke-width="1.25" stroke-linejoin="round"/>
<polygon points="247.96,274.30 250.56,278.80 245.36,278.80" fill="#fff" stroke="#98173c" stroke-width="1.25" stroke-linejoin="round"/>
<polygon points="285.14,268.60 287.74,273.10 282.54,273.10" fill="#fff" stroke="#98173c" stroke-width="1.25" stroke-linejoin="round"/>
<circle cx="192.20" cy="246.40" r="2.15" fill="#fff" stroke="#2f4e82" stroke-width="1.2"/>
<circle cx="210.79" cy="244.90" r="2.15" fill="#fff" stroke="#2f4e82" stroke-width="1.2"/>
<circle cx="229.38" cy="242.70" r="2.15" fill="#fff" stroke="#2f4e82" stroke-width="1.2"/>
<circle cx="247.96" cy="239.80" r="2.15" fill="#fff" stroke="#2f4e82" stroke-width="1.2"/>
<circle cx="285.14" cy="238.50" r="2.15" fill="#fff" stroke="#2f4e82" stroke-width="1.2"/>
<circle cx="192.20" cy="258.60" r="2.15" fill="#fff" stroke="#98173c" stroke-width="1.2"/>
<circle cx="210.79" cy="259.30" r="2.15" fill="#fff" stroke="#98173c" stroke-width="1.2"/>
<circle cx="229.38" cy="258.00" r="2.15" fill="#fff" stroke="#98173c" stroke-width="1.2"/>
<circle cx="247.96" cy="258.00" r="2.15" fill="#fff" stroke="#98173c" stroke-width="1.2"/>
<circle cx="285.14" cy="257.10" r="2.15" fill="#fff" stroke="#98173c" stroke-width="1.2"/>
<circle cx="206.89" cy="286.40" r="1.35" fill="#111"/>
<circle cx="210.79" cy="286.40" r="1.35" fill="#111"/>
<circle cx="214.69" cy="286.40" r="1.35" fill="#111"/>
<circle cx="225.48" cy="285.30" r="1.35" fill="#111"/>
<circle cx="229.38" cy="285.30" r="1.35" fill="#111"/>
<circle cx="233.28" cy="285.30" r="1.35" fill="#111"/>
<circle cx="244.06" cy="287.70" r="1.35" fill="#111"/>
<circle cx="247.96" cy="287.70" r="1.35" fill="#111"/>
<circle cx="251.86" cy="287.70" r="1.35" fill="#111"/>
<circle cx="281.24" cy="282.60" r="1.35" fill="#111"/>
<circle cx="285.14" cy="282.60" r="1.35" fill="#111"/>
<circle cx="289.04" cy="282.60" r="1.35" fill="#111"/>
<path d="M335.50,297.00 L336.00,292.00 L337.00,288.50 L338.50,285.50 L340.30,283.20 L341.80,281.20 L342.90,278.00 L344.20,274.00 L345.60,270.50 L347.10,267.20 L348.60,263.00 L349.80,258.80 L351.20,255.00 L353.00,251.80 L356.00,249.00 L359.50,247.30 L362.40,246.20 L365.00,247.30 L367.60,248.40 L370.00,249.60 L373.00,251.80 L376.20,254.20 L379.00,257.50 L382.30,261.20 L384.50,263.80 L387.00,266.50 L390.00,270.30 L393.90,274.30 L397.50,277.30 L401.20,280.00 L405.00,282.80 L409.70,285.80 L414.50,288.00 L414.50,297.00 Z" fill="#bcc8dd"/>
<clipPath id="cl1"><path d="M335.50,297.00 L336.00,292.00 L337.00,288.50 L338.50,285.50 L340.30,283.20 L341.80,281.20 L342.90,278.00 L344.20,274.00 L345.60,270.50 L347.10,267.20 L348.60,263.00 L349.80,258.80 L351.20,255.00 L353.00,251.80 L356.00,249.00 L359.50,247.30 L362.40,246.20 L365.00,247.30 L367.60,248.40 L370.00,249.60 L373.00,251.80 L376.20,254.20 L379.00,257.50 L382.30,261.20 L384.50,263.80 L387.00,266.50 L390.00,270.30 L393.90,274.30 L397.50,277.30 L401.20,280.00 L405.00,282.80 L409.70,285.80 L414.50,288.00 L414.50,297.00 Z"/></clipPath>
<g clip-path="url(#cl1)"><line x1="337.3" y1="240" x2="337.3" y2="297" stroke="#f7f9fc" stroke-width="0.7"/><line x1="338.9" y1="240" x2="338.9" y2="297" stroke="#f7f9fc" stroke-width="0.7"/><line x1="340.5" y1="240" x2="340.5" y2="297" stroke="#f7f9fc" stroke-width="0.7"/><line x1="342.1" y1="240" x2="342.1" y2="297" stroke="#f7f9fc" stroke-width="0.7"/><line x1="343.7" y1="240" x2="343.7" y2="297" stroke="#f7f9fc" stroke-width="0.7"/><line x1="345.3" y1="240" x2="345.3" y2="297" stroke="#f7f9fc" stroke-width="0.7"/><line x1="346.9" y1="240" x2="346.9" y2="297" stroke="#f7f9fc" stroke-width="0.7"/><line x1="348.5" y1="240" x2="348.5" y2="297" stroke="#f7f9fc" stroke-width="0.7"/><line x1="350.1" y1="240" x2="350.1" y2="297" stroke="#f7f9fc" stroke-width="0.7"/><line x1="351.7" y1="240" x2="351.7" y2="297" stroke="#f7f9fc" stroke-width="0.7"/><line x1="353.3" y1="240" x2="353.3" y2="297" stroke="#f7f9fc" stroke-width="0.7"/><line x1="354.9" y1="240" x2="354.9" y2="297" stroke="#f7f9fc" stroke-width="0.7"/></g>
<path d="M338.40,297.00 L339.80,293.00 L341.00,290.00 L342.80,285.00 L344.50,280.00 L346.80,275.00 L348.60,270.00 L350.90,265.00 L352.60,260.00 L354.30,255.00 L355.50,251.00 L357.00,247.00 L358.70,243.00 L360.20,240.40 L363.00,242.60 L366.20,245.00 L369.70,244.20 L372.00,247.00 L374.60,250.40 L377.00,252.80 L379.20,255.00 L381.50,256.00 L383.00,256.60 L384.80,259.50 L386.20,261.90 L388.00,264.50 L390.00,267.30 L392.50,271.00 L395.00,274.00 L397.50,276.50 L402.30,280.50 L405.50,283.00 L408.60,285.70 L411.50,287.00 L414.50,287.80 L414.50,297.00 Z" fill="#2a477e" stroke="#1f386a" stroke-width="0.6"/>
<clipPath id="cl3"><path d="M338.40,297.00 L339.80,293.00 L341.00,290.00 L342.80,285.00 L344.50,280.00 L346.80,275.00 L348.60,270.00 L350.90,265.00 L352.60,260.00 L354.30,255.00 L355.50,251.00 L357.00,247.00 L358.70,243.00 L360.20,240.40 L363.00,242.60 L366.20,245.00 L369.70,244.20 L372.00,247.00 L374.60,250.40 L377.00,252.80 L379.20,255.00 L381.50,256.00 L383.00,256.60 L384.80,259.50 L386.20,261.90 L388.00,264.50 L390.00,267.30 L392.50,271.00 L395.00,274.00 L397.50,276.50 L402.30,280.50 L405.50,283.00 L408.60,285.70 L411.50,287.00 L414.50,287.80 L414.50,297.00 Z"/></clipPath>
<path d="M335.50,297.00 L336.00,292.00 L337.00,288.50 L338.50,285.50 L340.30,283.20 L341.80,281.20 L342.90,278.00 L344.20,274.00 L345.60,270.50 L347.10,267.20 L348.60,263.00 L349.80,258.80 L351.20,255.00 L353.00,251.80 L356.00,249.00 L359.50,247.30 L362.40,246.20 L365.00,247.30 L367.60,248.40 L370.00,249.60 L373.00,251.80 L376.20,254.20 L379.00,257.50 L382.30,261.20 L384.50,263.80 L387.00,266.50 L390.00,270.30 L393.90,274.30 L397.50,277.30 L401.20,280.00 L405.00,282.80 L409.70,285.80 L414.50,288.00 L414.50,297.00 Z" fill="#2f5088" clip-path="url(#cl3)"/>
<path d="M351.20,255.00 L353.00,251.80 L356.00,249.00 L359.50,247.30 L362.40,246.20 L365.00,247.30 L367.60,248.40 L370.00,249.60 L373.00,251.80 L376.20,254.20 L379.00,257.50 L382.30,261.20 L384.50,263.80 L387.00,266.50 L390.00,270.30 L393.90,274.30 L397.50,277.30 L401.20,280.00 L405.00,282.80 L409.70,285.80 L414.50,288.00" fill="none" stroke="#7f96bd" stroke-width="0.85"/>
<text x="337.90" y="236.90" font-size="6.9" text-anchor="start" fill="#262626" stroke="#262626" stroke-width="0.12">Clod.</text>
<line x1="345.80" y1="239.50" x2="345.80" y2="265.50" stroke="#111" stroke-width="1.1"/>
<polygon points="343.7,264.5 347.9,264.5 345.8,270.3" fill="#111"/>
<text x="383.30" y="236.90" font-size="7.5" text-anchor="start" fill="#262626" stroke="#262626" stroke-width="0.12">PBS</text>
<line x1="388.60" y1="239.80" x2="382.90" y2="251.50" stroke="#111" stroke-width="1.2"/>
<polygon points="381.0,255.6 381.0,249.9 385.2,251.9" fill="#111"/>
<path d="M434.20,297.00 L435.20,290.00 L436.40,284.00 L437.70,268.00 L439.00,253.00 L440.30,244.00 L441.50,235.40 L443.50,228.00 L446.00,223.20 L448.70,220.40 L451.20,223.50 L453.50,229.50 L455.50,235.40 L458.40,240.50 L462.60,248.90 L466.80,259.40 L471.00,268.90 L474.00,272.50 L477.30,275.20 L481.50,279.00 L485.70,282.60 L490.00,284.80 L494.10,286.30 L498.50,287.80 L502.60,289.30 L507.00,290.50 L511.00,291.60 L512.80,293.00 L512.80,297.00 Z" fill="#d48a9c"/>
<clipPath id="cl2"><path d="M434.20,297.00 L435.20,290.00 L436.40,284.00 L437.70,268.00 L439.00,253.00 L440.30,244.00 L441.50,235.40 L443.50,228.00 L446.00,223.20 L448.70,220.40 L451.20,223.50 L453.50,229.50 L455.50,235.40 L458.40,240.50 L462.60,248.90 L466.80,259.40 L471.00,268.90 L474.00,272.50 L477.30,275.20 L481.50,279.00 L485.70,282.60 L490.00,284.80 L494.10,286.30 L498.50,287.80 L502.60,289.30 L507.00,290.50 L511.00,291.60 L512.80,293.00 L512.80,297.00 Z"/></clipPath>
<g clip-path="url(#cl2)"><line x1="435.5" y1="215" x2="435.5" y2="297" stroke="#eec4ce" stroke-width="0.55"/><line x1="437.1" y1="215" x2="437.1" y2="297" stroke="#eec4ce" stroke-width="0.55"/><line x1="438.7" y1="215" x2="438.7" y2="297" stroke="#eec4ce" stroke-width="0.55"/><line x1="440.3" y1="215" x2="440.3" y2="297" stroke="#eec4ce" stroke-width="0.55"/><line x1="441.9" y1="215" x2="441.9" y2="297" stroke="#eec4ce" stroke-width="0.55"/><line x1="443.5" y1="215" x2="443.5" y2="297" stroke="#eec4ce" stroke-width="0.55"/><line x1="445.1" y1="215" x2="445.1" y2="297" stroke="#eec4ce" stroke-width="0.55"/><line x1="446.7" y1="215" x2="446.7" y2="297" stroke="#eec4ce" stroke-width="0.55"/><line x1="448.3" y1="215" x2="448.3" y2="297" stroke="#eec4ce" stroke-width="0.55"/><line x1="449.9" y1="215" x2="449.9" y2="297" stroke="#eec4ce" stroke-width="0.55"/><line x1="451.5" y1="215" x2="451.5" y2="297" stroke="#eec4ce" stroke-width="0.55"/><line x1="453.1" y1="215" x2="453.1" y2="297" stroke="#eec4ce" stroke-width="0.55"/><line x1="454.7" y1="215" x2="454.7" y2="297" stroke="#eec4ce" stroke-width="0.55"/><line x1="456.3" y1="215" x2="456.3" y2="297" stroke="#eec4ce" stroke-width="0.55"/></g>
<path d="M434.20,297.00 L435.20,290.00 L436.40,284.00 L437.70,268.00 L439.00,253.00 L440.30,244.00 L441.50,235.40 L443.50,228.00 L446.00,223.20 L448.70,220.40 L451.20,223.50 L453.50,229.50 L455.50,235.40 L458.40,240.50 L462.60,248.90 L466.80,259.40 L471.00,268.90 L474.00,272.50 L477.30,275.20 L481.50,279.00 L485.70,282.60 L490.00,284.80 L494.10,286.30 L498.50,287.80 L502.60,289.30 L507.00,290.50 L511.00,291.60 L512.80,293.00" fill="none" stroke="#2e0812" stroke-width="1.0" stroke-dasharray="1.0,0.9"/>
<path d="M434.60,297.00 L436.40,289.00 L439.50,277.50 L442.80,266.00 L444.70,259.50 L446.60,253.30 L449.00,246.50 L451.70,240.50 L454.00,238.20 L456.80,237.20 L459.20,238.40 L461.80,241.00 L464.50,243.70 L467.00,247.00 L469.70,251.00 L472.90,255.20 L475.00,262.40 L477.00,261.40 L479.50,265.50 L482.30,270.00 L485.50,274.50 L488.60,279.40 L492.80,282.10 L497.00,285.00 L501.00,286.50 L505.50,288.40 L509.00,289.80 L511.80,291.40 L512.80,293.00 L512.80,297.00 Z" fill="#ad0430" stroke="#1e0509" stroke-width="1.15" stroke-linejoin="round"/>
<path d="M455.50,235.40 L458.40,240.50 L462.60,248.90 L466.80,259.40 L471.00,268.90 L474.00,272.50 L477.30,275.20 L481.50,279.00 L485.70,282.60 L490.00,284.80 L494.10,286.30 L498.50,287.80 L502.60,289.30 L507.00,290.50 L511.00,291.60 L512.80,293.00" fill="none" stroke="#5c0517" stroke-width="1.0"/>
<text x="472.00" y="229.90" font-size="7.3" text-anchor="start" fill="#262626" stroke="#262626" stroke-width="0.12">Clod.</text>
<line x1="468.80" y1="228.00" x2="457.50" y2="228.00" stroke="#111" stroke-width="1.2"/>
<polygon points="453.6,228.0 458.6,225.8 458.6,230.2" fill="#111"/>
<text x="491.70" y="254.70" font-size="7.5" text-anchor="start" fill="#262626" stroke="#262626" stroke-width="0.12">PBS</text>
<line x1="489.60" y1="253.10" x2="476.60" y2="253.10" stroke="#111" stroke-width="1.2"/>
<polygon points="472.8,253.1 477.8,250.9 477.8,255.3" fill="#111"/>
<text x="296.70" y="180.20" font-size="11" text-anchor="start" fill="#000" stroke="#000" stroke-width="0.35" font-weight="bold">G</text>
<line x1="335.30" y1="219.00" x2="335.30" y2="297.60" stroke="#111" stroke-width="1.25"/>
<line x1="332.20" y1="297.00" x2="335.30" y2="297.00" stroke="#111" stroke-width="1.0"/>
<text x="328.10" y="299.15" font-size="8.1" text-anchor="end" fill="#262626" stroke="#262626" stroke-width="0.12">0</text>
<line x1="332.20" y1="281.60" x2="335.30" y2="281.60" stroke="#111" stroke-width="1.0"/>
<text x="328.10" y="283.75" font-size="8.1" text-anchor="end" fill="#262626" stroke="#262626" stroke-width="0.12">2</text>
<line x1="332.20" y1="266.20" x2="335.30" y2="266.20" stroke="#111" stroke-width="1.0"/>
<text x="328.10" y="268.35" font-size="8.1" text-anchor="end" fill="#262626" stroke="#262626" stroke-width="0.12">4</text>
<line x1="332.20" y1="250.80" x2="335.30" y2="250.80" stroke="#111" stroke-width="1.0"/>
<text x="328.10" y="252.95" font-size="8.1" text-anchor="end" fill="#262626" stroke="#262626" stroke-width="0.12">6</text>
<line x1="332.20" y1="235.40" x2="335.30" y2="235.40" stroke="#111" stroke-width="1.0"/>
<text x="328.10" y="237.55" font-size="8.1" text-anchor="end" fill="#262626" stroke="#262626" stroke-width="0.12">8</text>
<line x1="332.20" y1="220.00" x2="335.30" y2="220.00" stroke="#111" stroke-width="1.0"/>
<text x="328.10" y="222.15" font-size="8.1" text-anchor="end" fill="#262626" stroke="#262626" stroke-width="0.12">10</text>
<line x1="334.70" y1="297.00" x2="414.90" y2="297.00" stroke="#111" stroke-width="1.25"/>
<line x1="335.30" y1="297.00" x2="335.30" y2="299.70" stroke="#111" stroke-width="1.0"/>
<line x1="367.00" y1="297.00" x2="367.00" y2="299.70" stroke="#111" stroke-width="1.0"/>
<line x1="398.70" y1="297.00" x2="398.70" y2="299.70" stroke="#111" stroke-width="1.0"/>
<text x="335.30" y="310.10" font-size="8.1" text-anchor="middle" fill="#262626" stroke="#262626" stroke-width="0.12">0</text>
<text x="367.00" y="310.10" font-size="8.1" text-anchor="middle" fill="#262626" stroke="#262626" stroke-width="0.12" textLength="27" lengthAdjust="spacingAndGlyphs">100000</text>
<text x="398.70" y="310.10" font-size="8.1" text-anchor="middle" fill="#262626" stroke="#262626" stroke-width="0.12" textLength="27" lengthAdjust="spacingAndGlyphs">200000</text>
<text x="374.70" y="323.90" font-size="8.5" text-anchor="middle" fill="#262626" stroke="#262626" stroke-width="0.3" textLength="61.3" lengthAdjust="spacingAndGlyphs">Platelet size (FSC-H)</text>
<line x1="433.50" y1="219.00" x2="433.50" y2="297.60" stroke="#111" stroke-width="1.25"/>
<line x1="430.40" y1="297.00" x2="433.50" y2="297.00" stroke="#111" stroke-width="1.0"/>
<text x="426.30" y="299.15" font-size="8.1" text-anchor="end" fill="#262626" stroke="#262626" stroke-width="0.12">0</text>
<line x1="430.40" y1="281.60" x2="433.50" y2="281.60" stroke="#111" stroke-width="1.0"/>
<text x="426.30" y="283.75" font-size="8.1" text-anchor="end" fill="#262626" stroke="#262626" stroke-width="0.12">2</text>
<line x1="430.40" y1="266.20" x2="433.50" y2="266.20" stroke="#111" stroke-width="1.0"/>
<text x="426.30" y="268.35" font-size="8.1" text-anchor="end" fill="#262626" stroke="#262626" stroke-width="0.12">4</text>
<line x1="430.40" y1="250.80" x2="433.50" y2="250.80" stroke="#111" stroke-width="1.0"/>
<text x="426.30" y="252.95" font-size="8.1" text-anchor="end" fill="#262626" stroke="#262626" stroke-width="0.12">6</text>
<line x1="430.40" y1="235.40" x2="433.50" y2="235.40" stroke="#111" stroke-width="1.0"/>
<text x="426.30" y="237.55" font-size="8.1" text-anchor="end" fill="#262626" stroke="#262626" stroke-width="0.12">8</text>
<line x1="430.40" y1="220.00" x2="433.50" y2="220.00" stroke="#111" stroke-width="1.0"/>
<text x="426.30" y="222.15" font-size="8.1" text-anchor="end" fill="#262626" stroke="#262626" stroke-width="0.12">10</text>
<line x1="432.90" y1="297.00" x2="513.10" y2="297.00" stroke="#111" stroke-width="1.25"/>
<line x1="433.50" y1="297.00" x2="433.50" y2="299.70" stroke="#111" stroke-width="1.0"/>
<line x1="465.20" y1="297.00" x2="465.20" y2="299.70" stroke="#111" stroke-width="1.0"/>
<line x1="496.90" y1="297.00" x2="496.90" y2="299.70" stroke="#111" stroke-width="1.0"/>
<text x="433.50" y="310.10" font-size="8.1" text-anchor="middle" fill="#262626" stroke="#262626" stroke-width="0.12">0</text>
<text x="465.20" y="310.10" font-size="8.1" text-anchor="middle" fill="#262626" stroke="#262626" stroke-width="0.12" textLength="27" lengthAdjust="spacingAndGlyphs">100000</text>
<text x="496.90" y="310.10" font-size="8.1" text-anchor="middle" fill="#262626" stroke="#262626" stroke-width="0.12" textLength="27" lengthAdjust="spacingAndGlyphs">200000</text>
<text x="472.90" y="323.90" font-size="8.5" text-anchor="middle" fill="#262626" stroke="#262626" stroke-width="0.3" textLength="61.3" lengthAdjust="spacingAndGlyphs">Platelet size (FSC-H)</text>
<text x="313.20" y="257.00" font-size="8.6" text-anchor="middle" fill="#262626" stroke="#262626" stroke-width="0.4" textLength="44" lengthAdjust="spacingAndGlyphs" transform="rotate(-90 313.20 257.00)">Frequency (%)</text>
<text x="374.60" y="211.50" font-size="9.3" text-anchor="middle" fill="#262626" stroke="#262626" stroke-width="0.28">Cre- Control</text>
<text x="456" y="211.6" font-size="9.3" font-style="italic" fill="#262626" stroke="#262626" stroke-width="0.3">Arpc2<tspan font-size="7" dy="-3.6" stroke-width="0.15">fl/fl</tspan></text>
<rect x="0" y="0" width="520" height="1.35" fill="#000"/>
<rect x="0" y="0" width="1.5" height="333" fill="#000"/>
<rect x="518.5" y="0" width="1.5" height="333" fill="#000"/>
<rect x="0" y="331.1" width="520" height="1.9" fill="#000"/>
</svg></body></html>
